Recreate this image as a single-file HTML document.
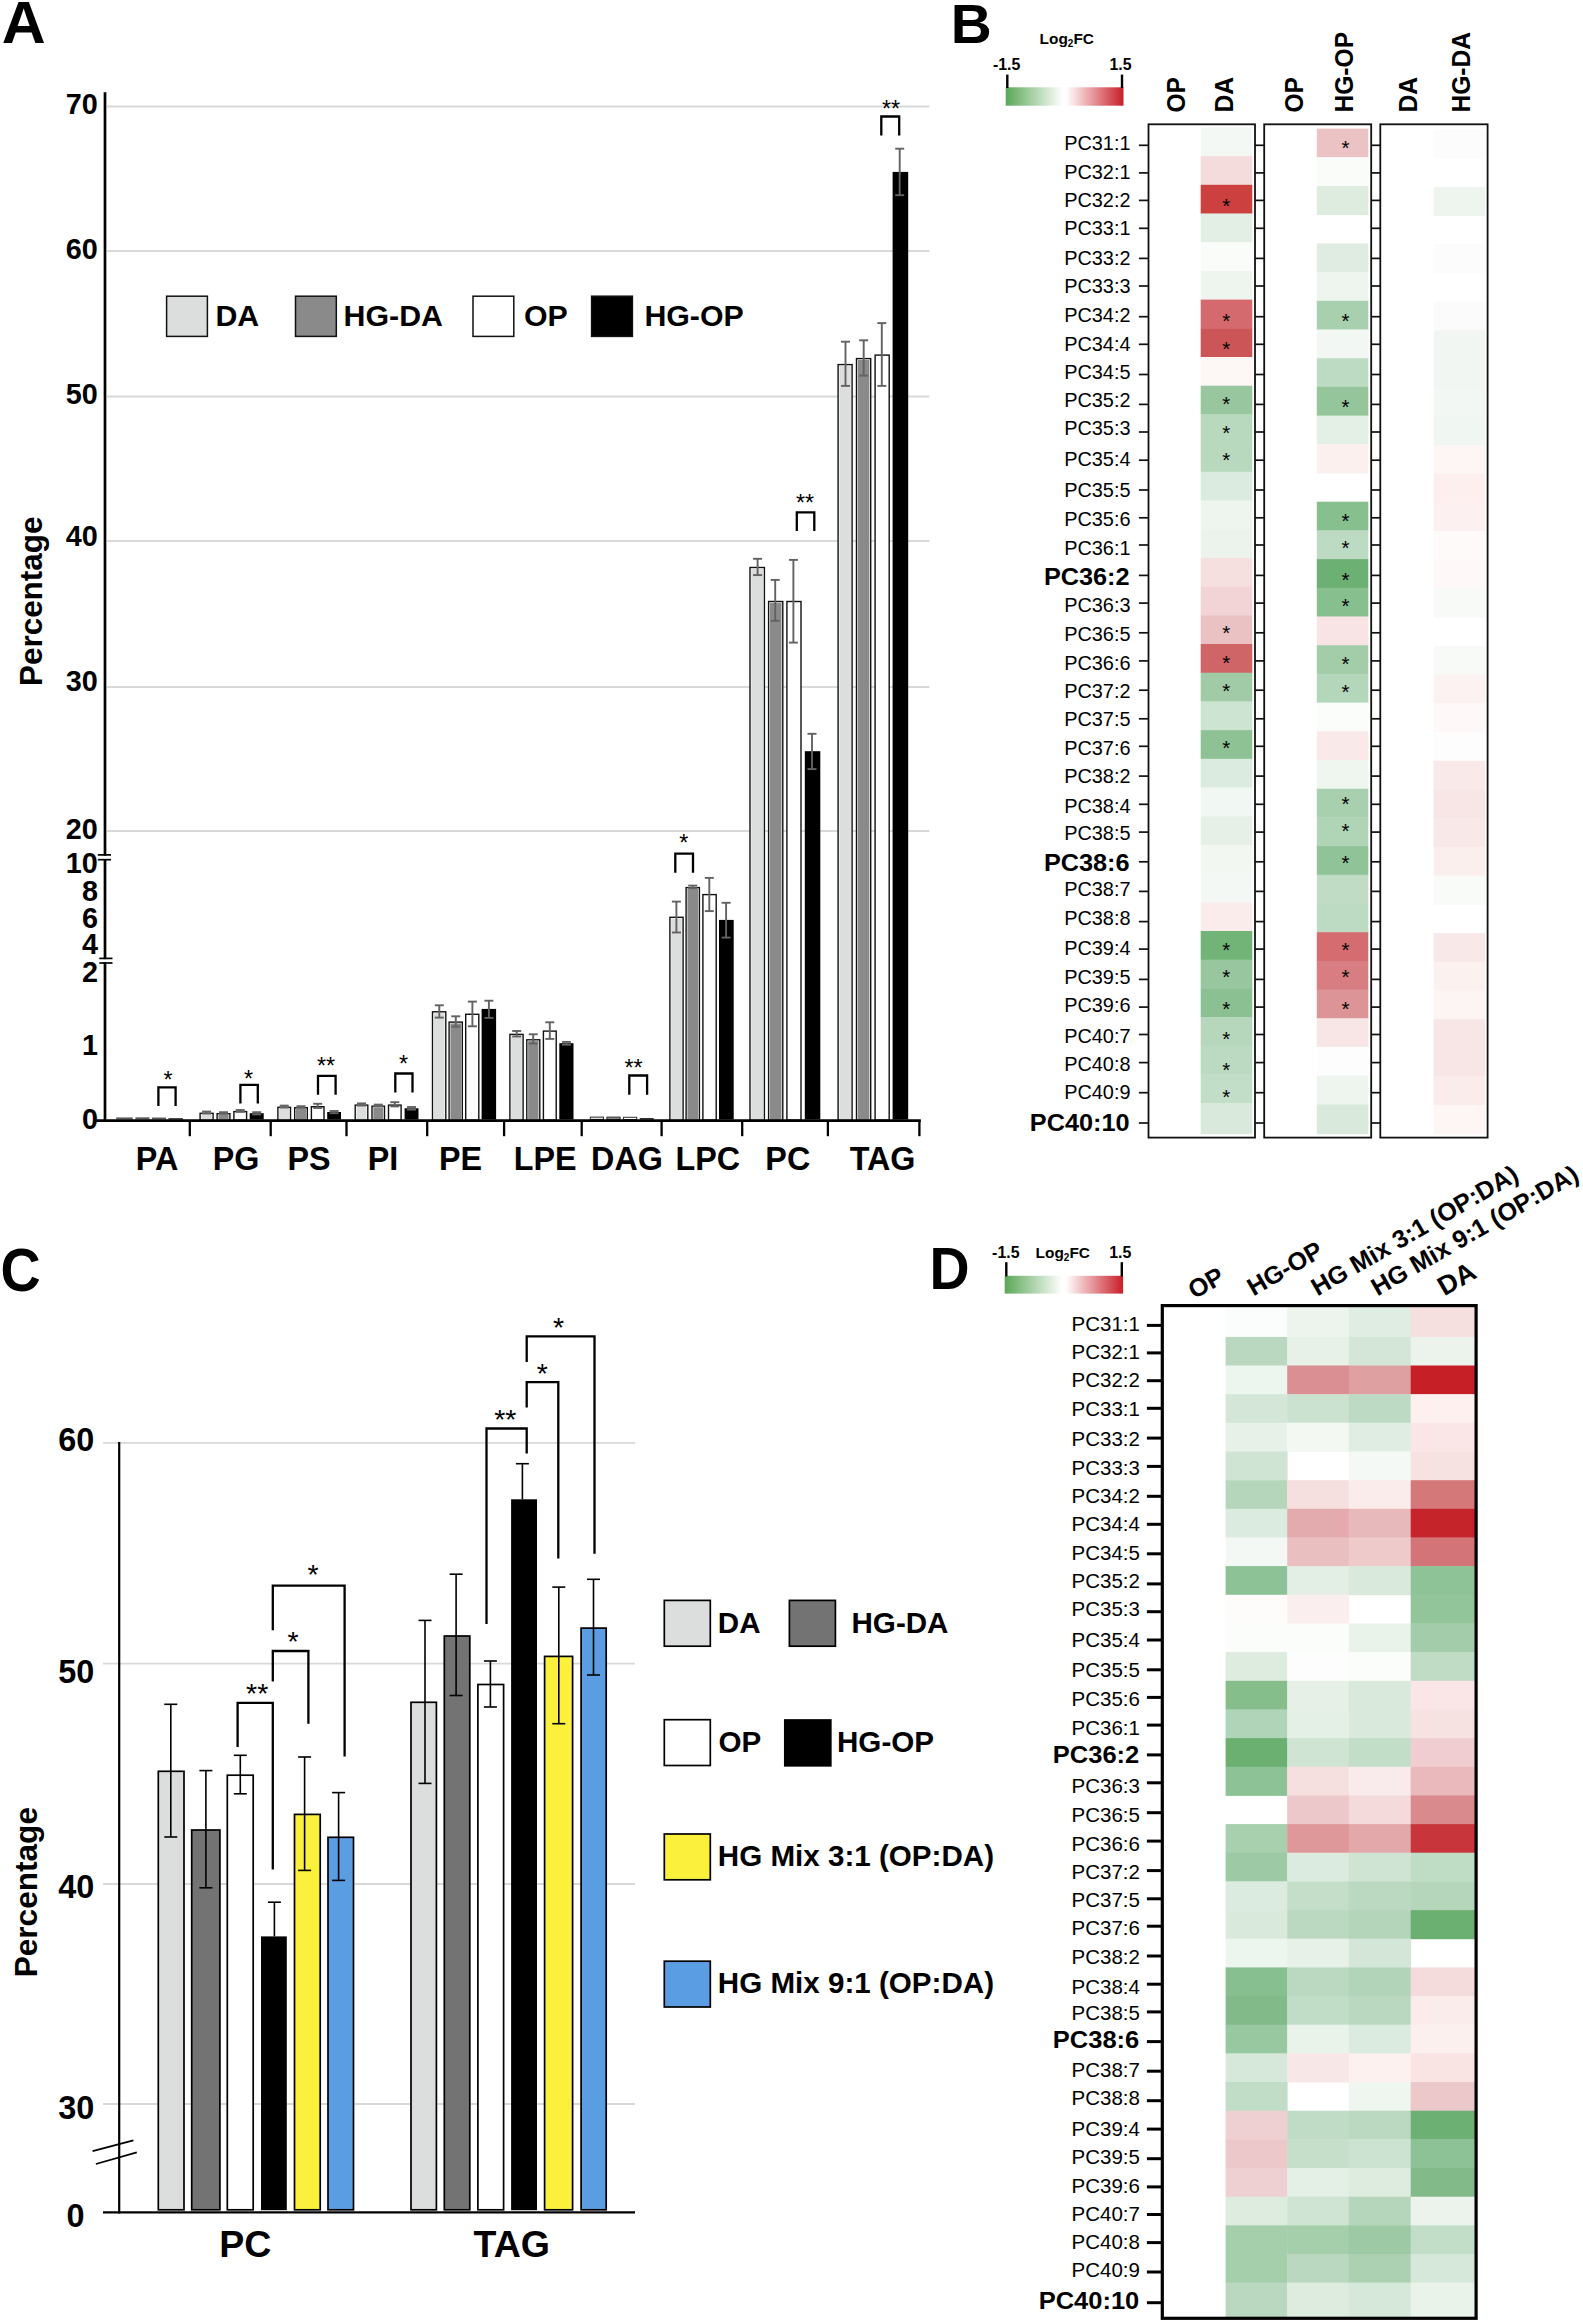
<!DOCTYPE html>
<html lang="en"><head><meta charset="utf-8"><title>Figure</title>
<style>
html,body{margin:0;padding:0;background:#fff;}
svg{display:block;}
text{font-family:"Liberation Sans", Arial, Helvetica, sans-serif;}
</style></head>
<body>
<svg width="1583" height="2323" viewBox="0 0 1583 2323">
<defs>
<linearGradient id="cb" x1="0" x2="1" y1="0" y2="0">
<stop offset="0" stop-color="#5ba757"/>
<stop offset="0.485" stop-color="#ffffff"/>
<stop offset="0.515" stop-color="#ffffff"/>
<stop offset="1" stop-color="#c81e29"/>
</linearGradient>
</defs>
<rect x="0" y="0" width="1583" height="2323" fill="#ffffff"/>
<g id="panelA">
<text transform="translate(1.70 43.30) scale(1.02 1)" font-size="59.6" font-weight="bold" text-anchor="start" fill="#000">A</text>
<line x1="107.0" y1="106.5" x2="929.4" y2="106.5" stroke="#d9d9d9" stroke-width="2" stroke-linecap="butt"/>
<line x1="107.0" y1="251.0" x2="929.4" y2="251.0" stroke="#d9d9d9" stroke-width="2" stroke-linecap="butt"/>
<line x1="107.0" y1="396.6" x2="929.4" y2="396.6" stroke="#d9d9d9" stroke-width="2" stroke-linecap="butt"/>
<line x1="107.0" y1="541.0" x2="929.4" y2="541.0" stroke="#d9d9d9" stroke-width="2" stroke-linecap="butt"/>
<line x1="107.0" y1="687.0" x2="929.4" y2="687.0" stroke="#d9d9d9" stroke-width="2" stroke-linecap="butt"/>
<line x1="107.0" y1="831.0" x2="929.4" y2="831.0" stroke="#d9d9d9" stroke-width="2" stroke-linecap="butt"/>
<text x="97.90" y="113.70" font-size="28.8" font-weight="bold" text-anchor="end" fill="#000">70</text>
<text x="97.90" y="258.60" font-size="28.8" font-weight="bold" text-anchor="end" fill="#000">60</text>
<text x="97.90" y="404.00" font-size="28.8" font-weight="bold" text-anchor="end" fill="#000">50</text>
<text x="97.90" y="546.30" font-size="28.8" font-weight="bold" text-anchor="end" fill="#000">40</text>
<text x="97.90" y="691.20" font-size="28.8" font-weight="bold" text-anchor="end" fill="#000">30</text>
<text x="97.90" y="838.50" font-size="28.8" font-weight="bold" text-anchor="end" fill="#000">20</text>
<text x="97.90" y="872.90" font-size="28.8" font-weight="bold" text-anchor="end" fill="#000">10</text>
<text x="97.90" y="900.70" font-size="28.8" font-weight="bold" text-anchor="end" fill="#000">8</text>
<text x="97.90" y="927.80" font-size="28.8" font-weight="bold" text-anchor="end" fill="#000">6</text>
<text x="97.90" y="953.70" font-size="28.8" font-weight="bold" text-anchor="end" fill="#000">4</text>
<text x="97.90" y="982.20" font-size="28.8" font-weight="bold" text-anchor="end" fill="#000">2</text>
<text x="97.90" y="1054.80" font-size="28.8" font-weight="bold" text-anchor="end" fill="#000">1</text>
<text x="97.90" y="1129.10" font-size="28.8" font-weight="bold" text-anchor="end" fill="#000">0</text>
<text x="41.80" y="601.30" font-size="31.4" font-weight="bold" text-anchor="middle" fill="#000" transform="rotate(-90 41.80 601.30)">Percentage</text>
<rect x="116.2" y="1117.4" width="16.6" height="2.1" fill="#5e5e5e"/>
<rect x="135.4" y="1117.3" width="14.1" height="2.2" fill="#5e5e5e"/>
<rect x="151.9" y="1117.5" width="14.1" height="2.0" fill="#5e5e5e"/>
<rect x="168.4" y="1118.3" width="14.5" height="1.2" fill="#000"/>
<rect x="200.1" y="1113.3" width="13.0" height="6.9" fill="#fff" stroke="#111" stroke-width="1.4"/>
<rect x="201.4" y="1114.6" width="10.4" height="4.9" fill="#dcdedd"/>
<rect x="217.1" y="1113.7" width="12.8" height="6.5" fill="#fff" stroke="#111" stroke-width="1.4"/>
<rect x="218.4" y="1115.0" width="10.2" height="4.5" fill="#8a8a8a"/>
<rect x="233.9" y="1111.6" width="12.7" height="8.6" fill="#fff" stroke="#111" stroke-width="1.4"/>
<rect x="249.7" y="1113.2" width="14.0" height="6.3" fill="#000"/>
<rect x="277.9" y="1107.3" width="12.6" height="12.9" fill="#fff" stroke="#111" stroke-width="1.4"/>
<rect x="279.2" y="1108.6" width="10.0" height="10.9" fill="#dcdedd"/>
<rect x="294.7" y="1107.7" width="12.6" height="12.5" fill="#fff" stroke="#111" stroke-width="1.4"/>
<rect x="296.0" y="1109.0" width="10.0" height="10.5" fill="#8a8a8a"/>
<rect x="311.4" y="1106.7" width="12.6" height="13.5" fill="#fff" stroke="#111" stroke-width="1.4"/>
<rect x="327.2" y="1112.0" width="13.8" height="7.5" fill="#000"/>
<rect x="355.2" y="1105.1" width="12.6" height="15.1" fill="#fff" stroke="#111" stroke-width="1.4"/>
<rect x="356.5" y="1106.4" width="10.0" height="13.1" fill="#dcdedd"/>
<rect x="372.0" y="1106.2" width="12.5" height="14.0" fill="#fff" stroke="#111" stroke-width="1.4"/>
<rect x="373.3" y="1107.5" width="9.9" height="12.0" fill="#8a8a8a"/>
<rect x="388.5" y="1105.1" width="12.6" height="15.1" fill="#fff" stroke="#111" stroke-width="1.4"/>
<rect x="404.6" y="1108.3" width="13.9" height="11.2" fill="#000"/>
<rect x="432.5" y="1011.8" width="13.3" height="108.4" fill="#fff" stroke="#111" stroke-width="1.4"/>
<rect x="433.8" y="1013.1" width="10.7" height="106.4" fill="#dcdedd"/>
<rect x="449.1" y="1022.1" width="13.2" height="98.1" fill="#fff" stroke="#111" stroke-width="1.4"/>
<rect x="450.4" y="1023.4" width="10.6" height="96.1" fill="#8a8a8a"/>
<rect x="465.7" y="1014.3" width="13.1" height="105.9" fill="#fff" stroke="#111" stroke-width="1.4"/>
<rect x="481.6" y="1008.9" width="14.5" height="110.6" fill="#000"/>
<rect x="509.9" y="1034.4" width="13.2" height="85.8" fill="#fff" stroke="#111" stroke-width="1.4"/>
<rect x="511.2" y="1035.7" width="10.6" height="83.8" fill="#dcdedd"/>
<rect x="526.8" y="1039.8" width="13.0" height="80.4" fill="#fff" stroke="#111" stroke-width="1.4"/>
<rect x="528.1" y="1041.1" width="10.4" height="78.4" fill="#8a8a8a"/>
<rect x="543.4" y="1031.1" width="12.8" height="89.1" fill="#fff" stroke="#111" stroke-width="1.4"/>
<rect x="559.3" y="1043.2" width="14.2" height="76.3" fill="#000"/>
<rect x="590.3" y="1117.1" width="13.2" height="2.4" fill="#dcdedd" stroke="#333" stroke-width="1.0"/>
<rect x="606.9" y="1117.1" width="13.2" height="2.4" fill="#8a8a8a" stroke="#333" stroke-width="1.0"/>
<rect x="623.4" y="1117.3" width="13.3" height="2.2" fill="#ffffff" stroke="#333" stroke-width="1.0"/>
<rect x="639.8" y="1118.2" width="13.9" height="1.3" fill="#000"/>
<rect x="669.9" y="917.3" width="13.2" height="202.9" fill="#fff" stroke="#111" stroke-width="1.4"/>
<rect x="671.2" y="918.6" width="10.6" height="200.9" fill="#dcdedd"/>
<rect x="686.1" y="887.6" width="13.3" height="232.6" fill="#fff" stroke="#111" stroke-width="1.4"/>
<rect x="687.4" y="888.9" width="10.7" height="230.6" fill="#8a8a8a"/>
<rect x="702.9" y="894.6" width="13.3" height="225.6" fill="#fff" stroke="#111" stroke-width="1.4"/>
<rect x="719.0" y="919.9" width="14.7" height="199.6" fill="#000"/>
<rect x="750.0" y="567.5" width="14.4" height="552.7" fill="#fff" stroke="#111" stroke-width="1.4"/>
<rect x="751.3" y="568.8" width="11.8" height="550.7" fill="#dcdedd"/>
<rect x="768.6" y="601.5" width="14.2" height="518.7" fill="#fff" stroke="#111" stroke-width="1.4"/>
<rect x="769.9" y="602.8" width="11.6" height="516.7" fill="#8a8a8a"/>
<rect x="786.9" y="601.5" width="14.1" height="518.7" fill="#fff" stroke="#111" stroke-width="1.4"/>
<rect x="804.8" y="751.2" width="15.5" height="368.3" fill="#000"/>
<rect x="838.1" y="364.6" width="14.0" height="755.6" fill="#fff" stroke="#111" stroke-width="1.4"/>
<rect x="839.4" y="365.9" width="11.4" height="753.6" fill="#dcdedd"/>
<rect x="856.5" y="358.6" width="14.2" height="761.6" fill="#fff" stroke="#111" stroke-width="1.4"/>
<rect x="857.8" y="359.9" width="11.6" height="759.6" fill="#8a8a8a"/>
<rect x="875.1" y="355.1" width="14.1" height="765.1" fill="#fff" stroke="#111" stroke-width="1.4"/>
<rect x="892.6" y="171.9" width="15.6" height="947.6" fill="#000"/>
<line x1="206.6" y1="1111.6" x2="206.6" y2="1113.6" stroke="#626262" stroke-width="1.9" stroke-linecap="butt"/>
<line x1="202.1" y1="1111.6" x2="211.1" y2="1111.6" stroke="#626262" stroke-width="1.9" stroke-linecap="butt"/>
<line x1="202.1" y1="1113.6" x2="211.1" y2="1113.6" stroke="#626262" stroke-width="1.9" stroke-linecap="butt"/>
<line x1="223.5" y1="1112.2" x2="223.5" y2="1113.8" stroke="#626262" stroke-width="1.9" stroke-linecap="butt"/>
<line x1="219.0" y1="1112.2" x2="228.0" y2="1112.2" stroke="#626262" stroke-width="1.9" stroke-linecap="butt"/>
<line x1="219.0" y1="1113.8" x2="228.0" y2="1113.8" stroke="#626262" stroke-width="1.9" stroke-linecap="butt"/>
<line x1="240.2" y1="1110.0" x2="240.2" y2="1111.8" stroke="#626262" stroke-width="1.9" stroke-linecap="butt"/>
<line x1="235.7" y1="1110.0" x2="244.7" y2="1110.0" stroke="#626262" stroke-width="1.9" stroke-linecap="butt"/>
<line x1="235.7" y1="1111.8" x2="244.7" y2="1111.8" stroke="#626262" stroke-width="1.9" stroke-linecap="butt"/>
<line x1="256.7" y1="1112.2" x2="256.7" y2="1114.4" stroke="#626262" stroke-width="1.9" stroke-linecap="butt"/>
<line x1="252.2" y1="1112.2" x2="261.2" y2="1112.2" stroke="#626262" stroke-width="1.9" stroke-linecap="butt"/>
<line x1="252.2" y1="1114.4" x2="261.2" y2="1114.4" stroke="#626262" stroke-width="1.9" stroke-linecap="butt"/>
<line x1="284.2" y1="1105.6" x2="284.2" y2="1107.6" stroke="#626262" stroke-width="1.9" stroke-linecap="butt"/>
<line x1="279.7" y1="1105.6" x2="288.7" y2="1105.6" stroke="#626262" stroke-width="1.9" stroke-linecap="butt"/>
<line x1="279.7" y1="1107.6" x2="288.7" y2="1107.6" stroke="#626262" stroke-width="1.9" stroke-linecap="butt"/>
<line x1="301.0" y1="1106.2" x2="301.0" y2="1107.8" stroke="#626262" stroke-width="1.9" stroke-linecap="butt"/>
<line x1="296.5" y1="1106.2" x2="305.5" y2="1106.2" stroke="#626262" stroke-width="1.9" stroke-linecap="butt"/>
<line x1="296.5" y1="1107.8" x2="305.5" y2="1107.8" stroke="#626262" stroke-width="1.9" stroke-linecap="butt"/>
<line x1="317.7" y1="1103.8" x2="317.7" y2="1108.0" stroke="#626262" stroke-width="1.9" stroke-linecap="butt"/>
<line x1="313.2" y1="1103.8" x2="322.2" y2="1103.8" stroke="#626262" stroke-width="1.9" stroke-linecap="butt"/>
<line x1="313.2" y1="1108.0" x2="322.2" y2="1108.0" stroke="#626262" stroke-width="1.9" stroke-linecap="butt"/>
<line x1="334.1" y1="1111.0" x2="334.1" y2="1113.2" stroke="#626262" stroke-width="1.9" stroke-linecap="butt"/>
<line x1="329.6" y1="1111.0" x2="338.6" y2="1111.0" stroke="#626262" stroke-width="1.9" stroke-linecap="butt"/>
<line x1="329.6" y1="1113.2" x2="338.6" y2="1113.2" stroke="#626262" stroke-width="1.9" stroke-linecap="butt"/>
<line x1="361.5" y1="1103.4" x2="361.5" y2="1105.6" stroke="#626262" stroke-width="1.9" stroke-linecap="butt"/>
<line x1="357.0" y1="1103.4" x2="366.0" y2="1103.4" stroke="#626262" stroke-width="1.9" stroke-linecap="butt"/>
<line x1="357.0" y1="1105.6" x2="366.0" y2="1105.6" stroke="#626262" stroke-width="1.9" stroke-linecap="butt"/>
<line x1="378.3" y1="1104.6" x2="378.3" y2="1106.4" stroke="#626262" stroke-width="1.9" stroke-linecap="butt"/>
<line x1="373.8" y1="1104.6" x2="382.8" y2="1104.6" stroke="#626262" stroke-width="1.9" stroke-linecap="butt"/>
<line x1="373.8" y1="1106.4" x2="382.8" y2="1106.4" stroke="#626262" stroke-width="1.9" stroke-linecap="butt"/>
<line x1="394.8" y1="1102.2" x2="394.8" y2="1106.4" stroke="#626262" stroke-width="1.9" stroke-linecap="butt"/>
<line x1="390.3" y1="1102.2" x2="399.3" y2="1102.2" stroke="#626262" stroke-width="1.9" stroke-linecap="butt"/>
<line x1="390.3" y1="1106.4" x2="399.3" y2="1106.4" stroke="#626262" stroke-width="1.9" stroke-linecap="butt"/>
<line x1="411.5" y1="1107.0" x2="411.5" y2="1109.6" stroke="#626262" stroke-width="1.9" stroke-linecap="butt"/>
<line x1="407.0" y1="1107.0" x2="416.0" y2="1107.0" stroke="#626262" stroke-width="1.9" stroke-linecap="butt"/>
<line x1="407.0" y1="1109.6" x2="416.0" y2="1109.6" stroke="#626262" stroke-width="1.9" stroke-linecap="butt"/>
<line x1="439.3" y1="1005.3" x2="439.3" y2="1017.6" stroke="#626262" stroke-width="1.9" stroke-linecap="butt"/>
<line x1="434.8" y1="1005.3" x2="443.8" y2="1005.3" stroke="#626262" stroke-width="1.9" stroke-linecap="butt"/>
<line x1="434.8" y1="1017.6" x2="443.8" y2="1017.6" stroke="#626262" stroke-width="1.9" stroke-linecap="butt"/>
<line x1="455.8" y1="1016.3" x2="455.8" y2="1026.6" stroke="#626262" stroke-width="1.9" stroke-linecap="butt"/>
<line x1="451.3" y1="1016.3" x2="460.3" y2="1016.3" stroke="#626262" stroke-width="1.9" stroke-linecap="butt"/>
<line x1="451.3" y1="1026.6" x2="460.3" y2="1026.6" stroke="#626262" stroke-width="1.9" stroke-linecap="butt"/>
<line x1="472.4" y1="1001.6" x2="472.4" y2="1026.3" stroke="#626262" stroke-width="1.9" stroke-linecap="butt"/>
<line x1="467.9" y1="1001.6" x2="476.9" y2="1001.6" stroke="#626262" stroke-width="1.9" stroke-linecap="butt"/>
<line x1="467.9" y1="1026.3" x2="476.9" y2="1026.3" stroke="#626262" stroke-width="1.9" stroke-linecap="butt"/>
<line x1="488.9" y1="1000.7" x2="488.9" y2="1017.9" stroke="#626262" stroke-width="1.9" stroke-linecap="butt"/>
<line x1="484.4" y1="1000.7" x2="493.4" y2="1000.7" stroke="#626262" stroke-width="1.9" stroke-linecap="butt"/>
<line x1="484.4" y1="1017.9" x2="493.4" y2="1017.9" stroke="#626262" stroke-width="1.9" stroke-linecap="butt"/>
<line x1="516.7" y1="1031.0" x2="516.7" y2="1036.5" stroke="#626262" stroke-width="1.9" stroke-linecap="butt"/>
<line x1="512.2" y1="1031.0" x2="521.2" y2="1031.0" stroke="#626262" stroke-width="1.9" stroke-linecap="butt"/>
<line x1="512.2" y1="1036.5" x2="521.2" y2="1036.5" stroke="#626262" stroke-width="1.9" stroke-linecap="butt"/>
<line x1="533.2" y1="1034.3" x2="533.2" y2="1043.5" stroke="#626262" stroke-width="1.9" stroke-linecap="butt"/>
<line x1="528.7" y1="1034.3" x2="537.7" y2="1034.3" stroke="#626262" stroke-width="1.9" stroke-linecap="butt"/>
<line x1="528.7" y1="1043.5" x2="537.7" y2="1043.5" stroke="#626262" stroke-width="1.9" stroke-linecap="butt"/>
<line x1="549.8" y1="1022.3" x2="549.8" y2="1038.9" stroke="#626262" stroke-width="1.9" stroke-linecap="butt"/>
<line x1="545.3" y1="1022.3" x2="554.3" y2="1022.3" stroke="#626262" stroke-width="1.9" stroke-linecap="butt"/>
<line x1="545.3" y1="1038.9" x2="554.3" y2="1038.9" stroke="#626262" stroke-width="1.9" stroke-linecap="butt"/>
<line x1="566.4" y1="1041.9" x2="566.4" y2="1044.7" stroke="#626262" stroke-width="1.9" stroke-linecap="butt"/>
<line x1="561.9" y1="1041.9" x2="570.9" y2="1041.9" stroke="#626262" stroke-width="1.9" stroke-linecap="butt"/>
<line x1="561.9" y1="1044.7" x2="570.9" y2="1044.7" stroke="#626262" stroke-width="1.9" stroke-linecap="butt"/>
<line x1="676.4" y1="901.6" x2="676.4" y2="932.5" stroke="#626262" stroke-width="1.9" stroke-linecap="butt"/>
<line x1="671.9" y1="901.6" x2="680.9" y2="901.6" stroke="#626262" stroke-width="1.9" stroke-linecap="butt"/>
<line x1="671.9" y1="932.5" x2="680.9" y2="932.5" stroke="#626262" stroke-width="1.9" stroke-linecap="butt"/>
<line x1="692.7" y1="885.6" x2="692.7" y2="888.1" stroke="#626262" stroke-width="1.9" stroke-linecap="butt"/>
<line x1="688.2" y1="885.6" x2="697.2" y2="885.6" stroke="#626262" stroke-width="1.9" stroke-linecap="butt"/>
<line x1="688.2" y1="888.1" x2="697.2" y2="888.1" stroke="#626262" stroke-width="1.9" stroke-linecap="butt"/>
<line x1="709.3" y1="877.9" x2="709.3" y2="911.1" stroke="#626262" stroke-width="1.9" stroke-linecap="butt"/>
<line x1="704.8" y1="877.9" x2="713.8" y2="877.9" stroke="#626262" stroke-width="1.9" stroke-linecap="butt"/>
<line x1="704.8" y1="911.1" x2="713.8" y2="911.1" stroke="#626262" stroke-width="1.9" stroke-linecap="butt"/>
<line x1="726.1" y1="902.8" x2="726.1" y2="937.6" stroke="#626262" stroke-width="1.9" stroke-linecap="butt"/>
<line x1="721.6" y1="902.8" x2="730.6" y2="902.8" stroke="#626262" stroke-width="1.9" stroke-linecap="butt"/>
<line x1="721.6" y1="937.6" x2="730.6" y2="937.6" stroke="#626262" stroke-width="1.9" stroke-linecap="butt"/>
<line x1="757.6" y1="558.8" x2="757.6" y2="575.1" stroke="#626262" stroke-width="1.9" stroke-linecap="butt"/>
<line x1="753.1" y1="558.8" x2="762.1" y2="558.8" stroke="#626262" stroke-width="1.9" stroke-linecap="butt"/>
<line x1="753.1" y1="575.1" x2="762.1" y2="575.1" stroke="#626262" stroke-width="1.9" stroke-linecap="butt"/>
<line x1="775.2" y1="579.9" x2="775.2" y2="620.8" stroke="#626262" stroke-width="1.9" stroke-linecap="butt"/>
<line x1="770.7" y1="579.9" x2="779.7" y2="579.9" stroke="#626262" stroke-width="1.9" stroke-linecap="butt"/>
<line x1="770.7" y1="620.8" x2="779.7" y2="620.8" stroke="#626262" stroke-width="1.9" stroke-linecap="butt"/>
<line x1="793.4" y1="559.9" x2="793.4" y2="642.6" stroke="#626262" stroke-width="1.9" stroke-linecap="butt"/>
<line x1="788.9" y1="559.9" x2="797.9" y2="559.9" stroke="#626262" stroke-width="1.9" stroke-linecap="butt"/>
<line x1="788.9" y1="642.6" x2="797.9" y2="642.6" stroke="#626262" stroke-width="1.9" stroke-linecap="butt"/>
<line x1="812.0" y1="733.8" x2="812.0" y2="769.1" stroke="#626262" stroke-width="1.9" stroke-linecap="butt"/>
<line x1="807.5" y1="733.8" x2="816.5" y2="733.8" stroke="#626262" stroke-width="1.9" stroke-linecap="butt"/>
<line x1="807.5" y1="769.1" x2="816.5" y2="769.1" stroke="#626262" stroke-width="1.9" stroke-linecap="butt"/>
<line x1="845.5" y1="341.7" x2="845.5" y2="385.9" stroke="#626262" stroke-width="1.9" stroke-linecap="butt"/>
<line x1="841.0" y1="341.7" x2="850.0" y2="341.7" stroke="#626262" stroke-width="1.9" stroke-linecap="butt"/>
<line x1="841.0" y1="385.9" x2="850.0" y2="385.9" stroke="#626262" stroke-width="1.9" stroke-linecap="butt"/>
<line x1="863.7" y1="340.3" x2="863.7" y2="375.6" stroke="#626262" stroke-width="1.9" stroke-linecap="butt"/>
<line x1="859.2" y1="340.3" x2="868.2" y2="340.3" stroke="#626262" stroke-width="1.9" stroke-linecap="butt"/>
<line x1="859.2" y1="375.6" x2="868.2" y2="375.6" stroke="#626262" stroke-width="1.9" stroke-linecap="butt"/>
<line x1="881.8" y1="323.1" x2="881.8" y2="385.9" stroke="#626262" stroke-width="1.9" stroke-linecap="butt"/>
<line x1="877.3" y1="323.1" x2="886.3" y2="323.1" stroke="#626262" stroke-width="1.9" stroke-linecap="butt"/>
<line x1="877.3" y1="385.9" x2="886.3" y2="385.9" stroke="#626262" stroke-width="1.9" stroke-linecap="butt"/>
<line x1="899.7" y1="148.7" x2="899.7" y2="195.2" stroke="#626262" stroke-width="1.9" stroke-linecap="butt"/>
<line x1="895.2" y1="148.7" x2="904.2" y2="148.7" stroke="#626262" stroke-width="1.9" stroke-linecap="butt"/>
<line x1="895.2" y1="195.2" x2="904.2" y2="195.2" stroke="#626262" stroke-width="1.9" stroke-linecap="butt"/>
<line x1="105.0" y1="92.2" x2="105.0" y2="1121.9" stroke="#000" stroke-width="2.7" stroke-linecap="butt"/>
<line x1="96.2" y1="1120.7" x2="920.8" y2="1120.7" stroke="#000" stroke-width="2.8" stroke-linecap="butt"/>
<line x1="189.8" y1="1120.5" x2="189.8" y2="1136.2" stroke="#000" stroke-width="2.3" stroke-linecap="butt"/>
<line x1="270.7" y1="1120.5" x2="270.7" y2="1136.2" stroke="#000" stroke-width="2.3" stroke-linecap="butt"/>
<line x1="346.5" y1="1120.5" x2="346.5" y2="1136.2" stroke="#000" stroke-width="2.3" stroke-linecap="butt"/>
<line x1="427.2" y1="1120.5" x2="427.2" y2="1136.2" stroke="#000" stroke-width="2.3" stroke-linecap="butt"/>
<line x1="504.1" y1="1120.5" x2="504.1" y2="1136.2" stroke="#000" stroke-width="2.3" stroke-linecap="butt"/>
<line x1="581.7" y1="1120.5" x2="581.7" y2="1136.2" stroke="#000" stroke-width="2.3" stroke-linecap="butt"/>
<line x1="661.6" y1="1120.5" x2="661.6" y2="1136.2" stroke="#000" stroke-width="2.3" stroke-linecap="butt"/>
<line x1="742.2" y1="1120.5" x2="742.2" y2="1136.2" stroke="#000" stroke-width="2.3" stroke-linecap="butt"/>
<line x1="827.9" y1="1120.5" x2="827.9" y2="1136.2" stroke="#000" stroke-width="2.3" stroke-linecap="butt"/>
<line x1="919.4" y1="1120.5" x2="919.4" y2="1136.2" stroke="#000" stroke-width="2.3" stroke-linecap="butt"/>
<rect x="103.0" y="855.6" width="4.4" height="3.4" fill="#fff"/>
<rect x="103.0" y="959.2" width="4.4" height="3.0" fill="#fff"/>
<line x1="97.8" y1="854.9" x2="111.0" y2="854.9" stroke="#000" stroke-width="1.7" stroke-linecap="butt"/>
<line x1="97.8" y1="859.7" x2="111.0" y2="859.7" stroke="#000" stroke-width="1.7" stroke-linecap="butt"/>
<line x1="99.3" y1="958.4" x2="112.5" y2="958.4" stroke="#000" stroke-width="1.7" stroke-linecap="butt"/>
<line x1="99.3" y1="963.0" x2="112.5" y2="963.0" stroke="#000" stroke-width="1.7" stroke-linecap="butt"/>
<text x="157.10" y="1169.90" font-size="32.3" font-weight="bold" text-anchor="middle" fill="#000">PA</text>
<text x="236.10" y="1169.90" font-size="32.3" font-weight="bold" text-anchor="middle" fill="#000">PG</text>
<text x="309.00" y="1169.90" font-size="32.3" font-weight="bold" text-anchor="middle" fill="#000">PS</text>
<text x="383.00" y="1169.90" font-size="32.3" font-weight="bold" text-anchor="middle" fill="#000">PI</text>
<text x="460.60" y="1169.90" font-size="32.3" font-weight="bold" text-anchor="middle" fill="#000">PE</text>
<text x="545.20" y="1169.90" font-size="32.3" font-weight="bold" text-anchor="middle" fill="#000">LPE</text>
<text x="627.00" y="1169.90" font-size="32.3" font-weight="bold" text-anchor="middle" fill="#000">DAG</text>
<text x="707.90" y="1169.90" font-size="32.3" font-weight="bold" text-anchor="middle" fill="#000">LPC</text>
<text x="787.80" y="1169.90" font-size="32.3" font-weight="bold" text-anchor="middle" fill="#000">PC</text>
<text x="882.60" y="1169.90" font-size="32.3" font-weight="bold" text-anchor="middle" fill="#000">TAG</text>
<polyline points="158.4,1106.0 158.4,1087.3 175.6,1087.3 175.6,1106.0" fill="none" stroke="#000" stroke-width="2.3" stroke-linejoin="miter"/>
<text x="168.10" y="1087.72" font-size="23.3" text-anchor="middle" fill="#000">*</text>
<polyline points="240.4,1103.6 240.4,1084.8 257.8,1084.8 257.8,1103.6" fill="none" stroke="#000" stroke-width="2.3" stroke-linejoin="miter"/>
<text x="248.60" y="1087.02" font-size="23.3" text-anchor="middle" fill="#000">*</text>
<polyline points="318.0,1094.8 318.0,1075.9 335.6,1075.9 335.6,1094.8" fill="none" stroke="#000" stroke-width="2.3" stroke-linejoin="miter"/>
<text x="326.00" y="1074.02" font-size="23.3" text-anchor="middle" fill="#000">**</text>
<polyline points="395.3,1092.6 395.3,1073.5 412.5,1073.5 412.5,1092.6" fill="none" stroke="#000" stroke-width="2.3" stroke-linejoin="miter"/>
<text x="403.60" y="1072.02" font-size="23.3" text-anchor="middle" fill="#000">*</text>
<polyline points="629.3,1094.8 629.3,1075.5 647.1,1075.5 647.1,1094.8" fill="none" stroke="#000" stroke-width="2.3" stroke-linejoin="miter"/>
<text x="633.60" y="1075.62" font-size="23.3" text-anchor="middle" fill="#000">**</text>
<polyline points="675.3,872.7 675.3,853.6 693.0,853.6 693.0,872.7" fill="none" stroke="#000" stroke-width="2.3" stroke-linejoin="miter"/>
<text x="683.80" y="851.22" font-size="23.3" text-anchor="middle" fill="#000">*</text>
<polyline points="796.8,531.0 796.8,512.4 814.3,512.4 814.3,531.0" fill="none" stroke="#000" stroke-width="2.3" stroke-linejoin="miter"/>
<text x="805.10" y="510.52" font-size="23.3" text-anchor="middle" fill="#000">**</text>
<polyline points="881.3,135.4 881.3,116.5 899.2,116.5 899.2,135.4" fill="none" stroke="#000" stroke-width="2.3" stroke-linejoin="miter"/>
<text x="891.00" y="116.52" font-size="23.3" text-anchor="middle" fill="#000">**</text>
<rect x="166.6" y="296.2" width="40.8" height="40.2" fill="#dcdedd" stroke="#111" stroke-width="1.5"/>
<rect x="295.5" y="296.2" width="40.8" height="40.2" fill="#8a8a8a" stroke="#111" stroke-width="1.5"/>
<rect x="473.0" y="296.2" width="40.8" height="40.2" fill="#ffffff" stroke="#111" stroke-width="1.5"/>
<rect x="591.6" y="296.2" width="40.8" height="40.2" fill="#000000" stroke="#111" stroke-width="1.5"/>
<text x="215.40" y="325.70" font-size="30.3" font-weight="bold" text-anchor="start" fill="#000">DA</text>
<text x="343.60" y="325.70" font-size="30.3" font-weight="bold" text-anchor="start" fill="#000">HG-DA</text>
<text x="523.90" y="325.70" font-size="30.3" font-weight="bold" text-anchor="start" fill="#000">OP</text>
<text x="644.40" y="325.70" font-size="30.3" font-weight="bold" text-anchor="start" fill="#000">HG-OP</text>
</g>
<g id="panelB">
<text transform="translate(950.80 42.90) scale(1.016 1)" font-size="55.85" font-weight="bold" text-anchor="start" fill="#000">B</text>
<rect x="1005.7" y="87.3" width="117.8" height="18.4" fill="url(#cb)"/>
<line x1="1007.3" y1="74.6" x2="1007.3" y2="88.0" stroke="#000" stroke-width="2.4" stroke-linecap="butt"/>
<line x1="1122.0" y1="74.6" x2="1122.0" y2="88.0" stroke="#000" stroke-width="2.4" stroke-linecap="butt"/>
<text x="992.90" y="69.70" font-size="15.9" font-weight="bold" text-anchor="start" fill="#000">-1.5</text>
<text x="1131.50" y="69.70" font-size="15.9" font-weight="bold" text-anchor="end" fill="#000">1.5</text>
<text x="1039.6" y="44.0" font-size="15.4" font-weight="bold">Log<tspan font-size="10" dy="3.4">2</tspan><tspan dy="-3.4">FC</tspan></text>
<rect x="1200.7" y="127.4" width="51.6" height="29.1" fill="#f3f8f4"/>
<rect x="1200.7" y="156.1" width="51.6" height="29.1" fill="#f4dcdc"/>
<rect x="1200.7" y="184.8" width="51.6" height="29.1" fill="#cc4040"/>
<rect x="1200.7" y="213.5" width="51.6" height="29.1" fill="#e3eee5"/>
<rect x="1200.7" y="242.2" width="51.6" height="29.1" fill="#fafcfa"/>
<rect x="1200.7" y="270.9" width="51.6" height="29.1" fill="#edf5ee"/>
<rect x="1200.7" y="299.6" width="51.6" height="29.1" fill="#d46a6e"/>
<rect x="1200.7" y="328.3" width="51.6" height="29.1" fill="#cc5558"/>
<rect x="1200.7" y="357.0" width="51.6" height="29.1" fill="#fdf7f6"/>
<rect x="1200.7" y="385.7" width="51.6" height="29.1" fill="#98c79f"/>
<rect x="1200.7" y="414.4" width="51.6" height="29.1" fill="#b9d9bf"/>
<rect x="1200.7" y="443.1" width="51.6" height="29.1" fill="#b9d9bf"/>
<rect x="1200.7" y="471.8" width="51.6" height="29.1" fill="#dcebdf"/>
<rect x="1200.7" y="500.5" width="51.6" height="29.1" fill="#edf5ee"/>
<rect x="1200.7" y="529.2" width="51.6" height="29.1" fill="#ebf3ec"/>
<rect x="1200.7" y="557.9" width="51.6" height="29.1" fill="#f6e0df"/>
<rect x="1200.7" y="586.6" width="51.6" height="29.1" fill="#f2d4d6"/>
<rect x="1200.7" y="615.3" width="51.6" height="29.1" fill="#ebc2c4"/>
<rect x="1200.7" y="644.0" width="51.6" height="29.1" fill="#d06568"/>
<rect x="1200.7" y="672.7" width="51.6" height="29.1" fill="#a0cba6"/>
<rect x="1200.7" y="701.4" width="51.6" height="29.1" fill="#cde4d2"/>
<rect x="1200.7" y="730.1" width="51.6" height="29.1" fill="#8ec294"/>
<rect x="1200.7" y="758.8" width="51.6" height="29.1" fill="#dcebdf"/>
<rect x="1200.7" y="787.5" width="51.6" height="29.1" fill="#f1f7f2"/>
<rect x="1200.7" y="816.2" width="51.6" height="29.1" fill="#e6f0e7"/>
<rect x="1200.7" y="844.9" width="51.6" height="29.1" fill="#f2f7f2"/>
<rect x="1200.7" y="873.6" width="51.6" height="29.1" fill="#f4f8f4"/>
<rect x="1200.7" y="902.3" width="51.6" height="29.1" fill="#faeceb"/>
<rect x="1200.7" y="931.0" width="51.6" height="29.1" fill="#72b378"/>
<rect x="1200.7" y="959.7" width="51.6" height="29.1" fill="#98c79f"/>
<rect x="1200.7" y="988.4" width="51.6" height="29.1" fill="#8bc092"/>
<rect x="1200.7" y="1017.1" width="51.6" height="29.1" fill="#b6d7bc"/>
<rect x="1200.7" y="1045.8" width="51.6" height="29.1" fill="#bcdac1"/>
<rect x="1200.7" y="1074.5" width="51.6" height="29.1" fill="#c3dec8"/>
<rect x="1200.7" y="1103.2" width="51.6" height="31.0" fill="#d9eadc"/>
<text x="1226.20" y="213.01" font-size="20.5" text-anchor="middle" fill="#000">*</text>
<text x="1226.20" y="327.61" font-size="20.5" text-anchor="middle" fill="#000">*</text>
<text x="1226.20" y="355.51" font-size="20.5" text-anchor="middle" fill="#000">*</text>
<text x="1226.20" y="411.01" font-size="20.5" text-anchor="middle" fill="#000">*</text>
<text x="1226.20" y="439.51" font-size="20.5" text-anchor="middle" fill="#000">*</text>
<text x="1226.20" y="467.11" font-size="20.5" text-anchor="middle" fill="#000">*</text>
<text x="1226.20" y="640.01" font-size="20.5" text-anchor="middle" fill="#000">*</text>
<text x="1226.20" y="670.31" font-size="20.5" text-anchor="middle" fill="#000">*</text>
<text x="1226.20" y="698.21" font-size="20.5" text-anchor="middle" fill="#000">*</text>
<text x="1226.20" y="754.91" font-size="20.5" text-anchor="middle" fill="#000">*</text>
<text x="1226.20" y="956.91" font-size="20.5" text-anchor="middle" fill="#000">*</text>
<text x="1226.20" y="984.21" font-size="20.5" text-anchor="middle" fill="#000">*</text>
<text x="1226.20" y="1015.71" font-size="20.5" text-anchor="middle" fill="#000">*</text>
<text x="1226.20" y="1045.51" font-size="20.5" text-anchor="middle" fill="#000">*</text>
<text x="1226.20" y="1077.31" font-size="20.5" text-anchor="middle" fill="#000">*</text>
<text x="1226.20" y="1104.01" font-size="20.5" text-anchor="middle" fill="#000">*</text>
<rect x="1316.8" y="128.6" width="51.5" height="29.1" fill="#ebc3c4"/>
<rect x="1316.8" y="157.3" width="51.5" height="29.1" fill="#fafcfa"/>
<rect x="1316.8" y="186.0" width="51.5" height="29.1" fill="#deebdf"/>
<rect x="1316.8" y="243.4" width="51.5" height="29.1" fill="#e0ece1"/>
<rect x="1316.8" y="272.1" width="51.5" height="29.1" fill="#edf5ee"/>
<rect x="1316.8" y="300.8" width="51.5" height="29.1" fill="#a8cfae"/>
<rect x="1316.8" y="329.5" width="51.5" height="29.1" fill="#f2f7f3"/>
<rect x="1316.8" y="358.2" width="51.5" height="29.1" fill="#bddbc2"/>
<rect x="1316.8" y="386.9" width="51.5" height="29.1" fill="#94c59b"/>
<rect x="1316.8" y="415.6" width="51.5" height="29.1" fill="#e4efe5"/>
<rect x="1316.8" y="444.3" width="51.5" height="29.1" fill="#fcf0ef"/>
<rect x="1316.8" y="501.7" width="51.5" height="29.1" fill="#88bf8f"/>
<rect x="1316.8" y="530.4" width="51.5" height="29.1" fill="#bddbc2"/>
<rect x="1316.8" y="559.1" width="51.5" height="29.1" fill="#6db073"/>
<rect x="1316.8" y="587.8" width="51.5" height="29.1" fill="#88bf8f"/>
<rect x="1316.8" y="616.5" width="51.5" height="29.1" fill="#f8e4e4"/>
<rect x="1316.8" y="645.2" width="51.5" height="29.1" fill="#a3cda9"/>
<rect x="1316.8" y="673.9" width="51.5" height="29.1" fill="#b4d6ba"/>
<rect x="1316.8" y="702.6" width="51.5" height="29.1" fill="#fbfdfb"/>
<rect x="1316.8" y="731.3" width="51.5" height="29.1" fill="#f9eae9"/>
<rect x="1316.8" y="760.0" width="51.5" height="29.1" fill="#eff6f0"/>
<rect x="1316.8" y="788.7" width="51.5" height="29.1" fill="#a8cfae"/>
<rect x="1316.8" y="817.4" width="51.5" height="29.1" fill="#b0d4b6"/>
<rect x="1316.8" y="846.1" width="51.5" height="29.1" fill="#90c397"/>
<rect x="1316.8" y="874.8" width="51.5" height="29.1" fill="#c0dcc5"/>
<rect x="1316.8" y="903.5" width="51.5" height="29.1" fill="#bddbc2"/>
<rect x="1316.8" y="932.2" width="51.5" height="29.1" fill="#d46c70"/>
<rect x="1316.8" y="960.9" width="51.5" height="29.1" fill="#d87e82"/>
<rect x="1316.8" y="989.6" width="51.5" height="29.1" fill="#dc9496"/>
<rect x="1316.8" y="1018.3" width="51.5" height="29.1" fill="#f8e6e6"/>
<rect x="1316.8" y="1047.0" width="51.5" height="29.1" fill="#fcfdfc"/>
<rect x="1316.8" y="1075.7" width="51.5" height="29.1" fill="#edf5ee"/>
<rect x="1316.8" y="1104.4" width="51.5" height="29.8" fill="#d9eadc"/>
<text x="1345.45" y="155.41" font-size="20.5" text-anchor="middle" fill="#000">*</text>
<text x="1345.45" y="328.21" font-size="20.5" text-anchor="middle" fill="#000">*</text>
<text x="1345.45" y="414.01" font-size="20.5" text-anchor="middle" fill="#000">*</text>
<text x="1345.45" y="528.41" font-size="20.5" text-anchor="middle" fill="#000">*</text>
<text x="1345.45" y="554.81" font-size="20.5" text-anchor="middle" fill="#000">*</text>
<text x="1345.45" y="586.61" font-size="20.5" text-anchor="middle" fill="#000">*</text>
<text x="1345.45" y="613.31" font-size="20.5" text-anchor="middle" fill="#000">*</text>
<text x="1345.45" y="670.91" font-size="20.5" text-anchor="middle" fill="#000">*</text>
<text x="1345.45" y="698.81" font-size="20.5" text-anchor="middle" fill="#000">*</text>
<text x="1345.45" y="811.01" font-size="20.5" text-anchor="middle" fill="#000">*</text>
<text x="1345.45" y="838.31" font-size="20.5" text-anchor="middle" fill="#000">*</text>
<text x="1345.45" y="869.51" font-size="20.5" text-anchor="middle" fill="#000">*</text>
<text x="1345.45" y="956.91" font-size="20.5" text-anchor="middle" fill="#000">*</text>
<text x="1345.45" y="984.21" font-size="20.5" text-anchor="middle" fill="#000">*</text>
<text x="1345.45" y="1015.71" font-size="20.5" text-anchor="middle" fill="#000">*</text>
<rect x="1433.6" y="129.4" width="51.6" height="29.1" fill="#fcfcfc"/>
<rect x="1433.6" y="186.8" width="51.6" height="29.1" fill="#eef5ef"/>
<rect x="1433.6" y="244.2" width="51.6" height="29.1" fill="#fdfcfc"/>
<rect x="1433.6" y="301.6" width="51.6" height="29.1" fill="#fafbfa"/>
<rect x="1433.6" y="330.3" width="51.6" height="29.1" fill="#f1f6f2"/>
<rect x="1433.6" y="359.0" width="51.6" height="29.1" fill="#f1f6f2"/>
<rect x="1433.6" y="387.7" width="51.6" height="29.1" fill="#f2f7f3"/>
<rect x="1433.6" y="416.4" width="51.6" height="29.1" fill="#f0f6f1"/>
<rect x="1433.6" y="445.1" width="51.6" height="29.1" fill="#fdf6f5"/>
<rect x="1433.6" y="473.8" width="51.6" height="29.1" fill="#fcefee"/>
<rect x="1433.6" y="502.5" width="51.6" height="29.1" fill="#fcf1f0"/>
<rect x="1433.6" y="531.2" width="51.6" height="29.1" fill="#fefafa"/>
<rect x="1433.6" y="559.9" width="51.6" height="29.1" fill="#fef8f8"/>
<rect x="1433.6" y="588.6" width="51.6" height="29.1" fill="#f7faf7"/>
<rect x="1433.6" y="646.0" width="51.6" height="29.1" fill="#f8faf8"/>
<rect x="1433.6" y="674.7" width="51.6" height="29.1" fill="#fcf2f1"/>
<rect x="1433.6" y="703.4" width="51.6" height="29.1" fill="#fef9f8"/>
<rect x="1433.6" y="732.1" width="51.6" height="29.1" fill="#fefdfd"/>
<rect x="1433.6" y="760.8" width="51.6" height="29.1" fill="#f9e9e9"/>
<rect x="1433.6" y="789.5" width="51.6" height="29.1" fill="#f8e5e5"/>
<rect x="1433.6" y="818.2" width="51.6" height="29.1" fill="#f9e8e8"/>
<rect x="1433.6" y="846.9" width="51.6" height="29.1" fill="#fbefee"/>
<rect x="1433.6" y="875.6" width="51.6" height="29.1" fill="#f8fbf8"/>
<rect x="1433.6" y="933.0" width="51.6" height="29.1" fill="#f9e8e8"/>
<rect x="1433.6" y="961.7" width="51.6" height="29.1" fill="#fbf2f0"/>
<rect x="1433.6" y="990.4" width="51.6" height="29.1" fill="#fcf5f3"/>
<rect x="1433.6" y="1019.1" width="51.6" height="29.1" fill="#f8e6e6"/>
<rect x="1433.6" y="1047.8" width="51.6" height="29.1" fill="#f8e5e5"/>
<rect x="1433.6" y="1076.5" width="51.6" height="29.1" fill="#faeceb"/>
<rect x="1433.6" y="1105.2" width="51.6" height="29.0" fill="#fdf6f5"/>
<rect x="1148.5" y="124.3" width="106.5" height="1013.3" fill="none" stroke="#111" stroke-width="1.8"/>
<rect x="1264.2" y="124.3" width="107.0" height="1013.3" fill="none" stroke="#111" stroke-width="1.8"/>
<rect x="1380.3" y="124.3" width="107.3" height="1013.3" fill="none" stroke="#111" stroke-width="1.8"/>
<line x1="1138.9" y1="145.3" x2="1148.5" y2="145.3" stroke="#111" stroke-width="1.7" stroke-linecap="butt"/>
<line x1="1255.0" y1="145.3" x2="1264.2" y2="145.3" stroke="#111" stroke-width="1.7" stroke-linecap="butt"/>
<line x1="1371.2" y1="145.3" x2="1380.3" y2="145.3" stroke="#111" stroke-width="1.7" stroke-linecap="butt"/>
<text transform="translate(1130.50 149.90) scale(1.015 1)" font-size="19.6" text-anchor="end" fill="#000">PC31:1</text>
<line x1="1138.9" y1="172.9" x2="1148.5" y2="172.9" stroke="#111" stroke-width="1.7" stroke-linecap="butt"/>
<line x1="1255.0" y1="172.9" x2="1264.2" y2="172.9" stroke="#111" stroke-width="1.7" stroke-linecap="butt"/>
<line x1="1371.2" y1="172.9" x2="1380.3" y2="172.9" stroke="#111" stroke-width="1.7" stroke-linecap="butt"/>
<text transform="translate(1130.50 178.50) scale(1.015 1)" font-size="19.6" text-anchor="end" fill="#000">PC32:1</text>
<line x1="1138.9" y1="200.4" x2="1148.5" y2="200.4" stroke="#111" stroke-width="1.7" stroke-linecap="butt"/>
<line x1="1255.0" y1="200.4" x2="1264.2" y2="200.4" stroke="#111" stroke-width="1.7" stroke-linecap="butt"/>
<line x1="1371.2" y1="200.4" x2="1380.3" y2="200.4" stroke="#111" stroke-width="1.7" stroke-linecap="butt"/>
<text transform="translate(1130.50 206.80) scale(1.015 1)" font-size="19.6" text-anchor="end" fill="#000">PC32:2</text>
<line x1="1138.9" y1="228.3" x2="1148.5" y2="228.3" stroke="#111" stroke-width="1.7" stroke-linecap="butt"/>
<line x1="1255.0" y1="228.3" x2="1264.2" y2="228.3" stroke="#111" stroke-width="1.7" stroke-linecap="butt"/>
<line x1="1371.2" y1="228.3" x2="1380.3" y2="228.3" stroke="#111" stroke-width="1.7" stroke-linecap="butt"/>
<text transform="translate(1130.50 235.00) scale(1.015 1)" font-size="19.6" text-anchor="end" fill="#000">PC33:1</text>
<line x1="1138.9" y1="258.4" x2="1148.5" y2="258.4" stroke="#111" stroke-width="1.7" stroke-linecap="butt"/>
<line x1="1255.0" y1="258.4" x2="1264.2" y2="258.4" stroke="#111" stroke-width="1.7" stroke-linecap="butt"/>
<line x1="1371.2" y1="258.4" x2="1380.3" y2="258.4" stroke="#111" stroke-width="1.7" stroke-linecap="butt"/>
<text transform="translate(1130.50 265.40) scale(1.015 1)" font-size="19.6" text-anchor="end" fill="#000">PC33:2</text>
<line x1="1138.9" y1="286.0" x2="1148.5" y2="286.0" stroke="#111" stroke-width="1.7" stroke-linecap="butt"/>
<line x1="1255.0" y1="286.0" x2="1264.2" y2="286.0" stroke="#111" stroke-width="1.7" stroke-linecap="butt"/>
<line x1="1371.2" y1="286.0" x2="1380.3" y2="286.0" stroke="#111" stroke-width="1.7" stroke-linecap="butt"/>
<text transform="translate(1130.50 293.40) scale(1.015 1)" font-size="19.6" text-anchor="end" fill="#000">PC33:3</text>
<line x1="1138.9" y1="316.7" x2="1148.5" y2="316.7" stroke="#111" stroke-width="1.7" stroke-linecap="butt"/>
<line x1="1255.0" y1="316.7" x2="1264.2" y2="316.7" stroke="#111" stroke-width="1.7" stroke-linecap="butt"/>
<line x1="1371.2" y1="316.7" x2="1380.3" y2="316.7" stroke="#111" stroke-width="1.7" stroke-linecap="butt"/>
<text transform="translate(1130.50 322.30) scale(1.015 1)" font-size="19.6" text-anchor="end" fill="#000">PC34:2</text>
<line x1="1138.9" y1="344.3" x2="1148.5" y2="344.3" stroke="#111" stroke-width="1.7" stroke-linecap="butt"/>
<line x1="1255.0" y1="344.3" x2="1264.2" y2="344.3" stroke="#111" stroke-width="1.7" stroke-linecap="butt"/>
<line x1="1371.2" y1="344.3" x2="1380.3" y2="344.3" stroke="#111" stroke-width="1.7" stroke-linecap="butt"/>
<text transform="translate(1130.50 350.50) scale(1.015 1)" font-size="19.6" text-anchor="end" fill="#000">PC34:4</text>
<line x1="1138.9" y1="374.5" x2="1148.5" y2="374.5" stroke="#111" stroke-width="1.7" stroke-linecap="butt"/>
<line x1="1255.0" y1="374.5" x2="1264.2" y2="374.5" stroke="#111" stroke-width="1.7" stroke-linecap="butt"/>
<line x1="1371.2" y1="374.5" x2="1380.3" y2="374.5" stroke="#111" stroke-width="1.7" stroke-linecap="butt"/>
<text transform="translate(1130.50 378.50) scale(1.015 1)" font-size="19.6" text-anchor="end" fill="#000">PC34:5</text>
<line x1="1138.9" y1="404.4" x2="1148.5" y2="404.4" stroke="#111" stroke-width="1.7" stroke-linecap="butt"/>
<line x1="1255.0" y1="404.4" x2="1264.2" y2="404.4" stroke="#111" stroke-width="1.7" stroke-linecap="butt"/>
<line x1="1371.2" y1="404.4" x2="1380.3" y2="404.4" stroke="#111" stroke-width="1.7" stroke-linecap="butt"/>
<text transform="translate(1130.50 406.70) scale(1.015 1)" font-size="19.6" text-anchor="end" fill="#000">PC35:2</text>
<line x1="1138.9" y1="432.0" x2="1148.5" y2="432.0" stroke="#111" stroke-width="1.7" stroke-linecap="butt"/>
<line x1="1255.0" y1="432.0" x2="1264.2" y2="432.0" stroke="#111" stroke-width="1.7" stroke-linecap="butt"/>
<line x1="1371.2" y1="432.0" x2="1380.3" y2="432.0" stroke="#111" stroke-width="1.7" stroke-linecap="butt"/>
<text transform="translate(1130.50 435.00) scale(1.015 1)" font-size="19.6" text-anchor="end" fill="#000">PC35:3</text>
<line x1="1138.9" y1="460.2" x2="1148.5" y2="460.2" stroke="#111" stroke-width="1.7" stroke-linecap="butt"/>
<line x1="1255.0" y1="460.2" x2="1264.2" y2="460.2" stroke="#111" stroke-width="1.7" stroke-linecap="butt"/>
<line x1="1371.2" y1="460.2" x2="1380.3" y2="460.2" stroke="#111" stroke-width="1.7" stroke-linecap="butt"/>
<text transform="translate(1130.50 465.50) scale(1.015 1)" font-size="19.6" text-anchor="end" fill="#000">PC35:4</text>
<line x1="1138.9" y1="490.0" x2="1148.5" y2="490.0" stroke="#111" stroke-width="1.7" stroke-linecap="butt"/>
<line x1="1255.0" y1="490.0" x2="1264.2" y2="490.0" stroke="#111" stroke-width="1.7" stroke-linecap="butt"/>
<line x1="1371.2" y1="490.0" x2="1380.3" y2="490.0" stroke="#111" stroke-width="1.7" stroke-linecap="butt"/>
<text transform="translate(1130.50 496.90) scale(1.015 1)" font-size="19.6" text-anchor="end" fill="#000">PC35:5</text>
<line x1="1138.9" y1="517.8" x2="1148.5" y2="517.8" stroke="#111" stroke-width="1.7" stroke-linecap="butt"/>
<line x1="1255.0" y1="517.8" x2="1264.2" y2="517.8" stroke="#111" stroke-width="1.7" stroke-linecap="butt"/>
<line x1="1371.2" y1="517.8" x2="1380.3" y2="517.8" stroke="#111" stroke-width="1.7" stroke-linecap="butt"/>
<text transform="translate(1130.50 525.60) scale(1.015 1)" font-size="19.6" text-anchor="end" fill="#000">PC35:6</text>
<line x1="1138.9" y1="545.0" x2="1148.5" y2="545.0" stroke="#111" stroke-width="1.7" stroke-linecap="butt"/>
<line x1="1255.0" y1="545.0" x2="1264.2" y2="545.0" stroke="#111" stroke-width="1.7" stroke-linecap="butt"/>
<line x1="1371.2" y1="545.0" x2="1380.3" y2="545.0" stroke="#111" stroke-width="1.7" stroke-linecap="butt"/>
<text transform="translate(1130.50 554.60) scale(1.015 1)" font-size="19.6" text-anchor="end" fill="#000">PC36:1</text>
<line x1="1138.9" y1="575.4" x2="1148.5" y2="575.4" stroke="#111" stroke-width="1.7" stroke-linecap="butt"/>
<line x1="1255.0" y1="575.4" x2="1264.2" y2="575.4" stroke="#111" stroke-width="1.7" stroke-linecap="butt"/>
<line x1="1371.2" y1="575.4" x2="1380.3" y2="575.4" stroke="#111" stroke-width="1.7" stroke-linecap="butt"/>
<text transform="translate(1129.60 585.10) scale(1.1 1)" font-size="23.0" font-weight="bold" text-anchor="end" fill="#000">PC36:2</text>
<line x1="1138.9" y1="603.1" x2="1148.5" y2="603.1" stroke="#111" stroke-width="1.7" stroke-linecap="butt"/>
<line x1="1255.0" y1="603.1" x2="1264.2" y2="603.1" stroke="#111" stroke-width="1.7" stroke-linecap="butt"/>
<line x1="1371.2" y1="603.1" x2="1380.3" y2="603.1" stroke="#111" stroke-width="1.7" stroke-linecap="butt"/>
<text transform="translate(1130.50 612.30) scale(1.015 1)" font-size="19.6" text-anchor="end" fill="#000">PC36:3</text>
<line x1="1138.9" y1="632.8" x2="1148.5" y2="632.8" stroke="#111" stroke-width="1.7" stroke-linecap="butt"/>
<line x1="1255.0" y1="632.8" x2="1264.2" y2="632.8" stroke="#111" stroke-width="1.7" stroke-linecap="butt"/>
<line x1="1371.2" y1="632.8" x2="1380.3" y2="632.8" stroke="#111" stroke-width="1.7" stroke-linecap="butt"/>
<text transform="translate(1130.50 641.00) scale(1.015 1)" font-size="19.6" text-anchor="end" fill="#000">PC36:5</text>
<line x1="1138.9" y1="660.9" x2="1148.5" y2="660.9" stroke="#111" stroke-width="1.7" stroke-linecap="butt"/>
<line x1="1255.0" y1="660.9" x2="1264.2" y2="660.9" stroke="#111" stroke-width="1.7" stroke-linecap="butt"/>
<line x1="1371.2" y1="660.9" x2="1380.3" y2="660.9" stroke="#111" stroke-width="1.7" stroke-linecap="butt"/>
<text transform="translate(1130.50 669.90) scale(1.015 1)" font-size="19.6" text-anchor="end" fill="#000">PC36:6</text>
<line x1="1138.9" y1="690.2" x2="1148.5" y2="690.2" stroke="#111" stroke-width="1.7" stroke-linecap="butt"/>
<line x1="1255.0" y1="690.2" x2="1264.2" y2="690.2" stroke="#111" stroke-width="1.7" stroke-linecap="butt"/>
<line x1="1371.2" y1="690.2" x2="1380.3" y2="690.2" stroke="#111" stroke-width="1.7" stroke-linecap="butt"/>
<text transform="translate(1130.50 698.20) scale(1.015 1)" font-size="19.6" text-anchor="end" fill="#000">PC37:2</text>
<line x1="1138.9" y1="718.8" x2="1148.5" y2="718.8" stroke="#111" stroke-width="1.7" stroke-linecap="butt"/>
<line x1="1255.0" y1="718.8" x2="1264.2" y2="718.8" stroke="#111" stroke-width="1.7" stroke-linecap="butt"/>
<line x1="1371.2" y1="718.8" x2="1380.3" y2="718.8" stroke="#111" stroke-width="1.7" stroke-linecap="butt"/>
<text transform="translate(1130.50 726.40) scale(1.015 1)" font-size="19.6" text-anchor="end" fill="#000">PC37:5</text>
<line x1="1138.9" y1="746.3" x2="1148.5" y2="746.3" stroke="#111" stroke-width="1.7" stroke-linecap="butt"/>
<line x1="1255.0" y1="746.3" x2="1264.2" y2="746.3" stroke="#111" stroke-width="1.7" stroke-linecap="butt"/>
<line x1="1371.2" y1="746.3" x2="1380.3" y2="746.3" stroke="#111" stroke-width="1.7" stroke-linecap="butt"/>
<text transform="translate(1130.50 754.50) scale(1.015 1)" font-size="19.6" text-anchor="end" fill="#000">PC37:6</text>
<line x1="1138.9" y1="776.1" x2="1148.5" y2="776.1" stroke="#111" stroke-width="1.7" stroke-linecap="butt"/>
<line x1="1255.0" y1="776.1" x2="1264.2" y2="776.1" stroke="#111" stroke-width="1.7" stroke-linecap="butt"/>
<line x1="1371.2" y1="776.1" x2="1380.3" y2="776.1" stroke="#111" stroke-width="1.7" stroke-linecap="butt"/>
<text transform="translate(1130.50 783.20) scale(1.015 1)" font-size="19.6" text-anchor="end" fill="#000">PC38:2</text>
<line x1="1138.9" y1="804.3" x2="1148.5" y2="804.3" stroke="#111" stroke-width="1.7" stroke-linecap="butt"/>
<line x1="1255.0" y1="804.3" x2="1264.2" y2="804.3" stroke="#111" stroke-width="1.7" stroke-linecap="butt"/>
<line x1="1371.2" y1="804.3" x2="1380.3" y2="804.3" stroke="#111" stroke-width="1.7" stroke-linecap="butt"/>
<text transform="translate(1130.50 813.00) scale(1.015 1)" font-size="19.6" text-anchor="end" fill="#000">PC38:4</text>
<line x1="1138.9" y1="832.1" x2="1148.5" y2="832.1" stroke="#111" stroke-width="1.7" stroke-linecap="butt"/>
<line x1="1255.0" y1="832.1" x2="1264.2" y2="832.1" stroke="#111" stroke-width="1.7" stroke-linecap="butt"/>
<line x1="1371.2" y1="832.1" x2="1380.3" y2="832.1" stroke="#111" stroke-width="1.7" stroke-linecap="butt"/>
<text transform="translate(1130.50 839.90) scale(1.015 1)" font-size="19.6" text-anchor="end" fill="#000">PC38:5</text>
<line x1="1138.9" y1="861.8" x2="1148.5" y2="861.8" stroke="#111" stroke-width="1.7" stroke-linecap="butt"/>
<line x1="1255.0" y1="861.8" x2="1264.2" y2="861.8" stroke="#111" stroke-width="1.7" stroke-linecap="butt"/>
<line x1="1371.2" y1="861.8" x2="1380.3" y2="861.8" stroke="#111" stroke-width="1.7" stroke-linecap="butt"/>
<text transform="translate(1129.60 871.10) scale(1.1 1)" font-size="23.0" font-weight="bold" text-anchor="end" fill="#000">PC38:6</text>
<line x1="1138.9" y1="891.4" x2="1148.5" y2="891.4" stroke="#111" stroke-width="1.7" stroke-linecap="butt"/>
<line x1="1255.0" y1="891.4" x2="1264.2" y2="891.4" stroke="#111" stroke-width="1.7" stroke-linecap="butt"/>
<line x1="1371.2" y1="891.4" x2="1380.3" y2="891.4" stroke="#111" stroke-width="1.7" stroke-linecap="butt"/>
<text transform="translate(1130.50 896.40) scale(1.015 1)" font-size="19.6" text-anchor="end" fill="#000">PC38:7</text>
<line x1="1138.9" y1="921.6" x2="1148.5" y2="921.6" stroke="#111" stroke-width="1.7" stroke-linecap="butt"/>
<line x1="1255.0" y1="921.6" x2="1264.2" y2="921.6" stroke="#111" stroke-width="1.7" stroke-linecap="butt"/>
<line x1="1371.2" y1="921.6" x2="1380.3" y2="921.6" stroke="#111" stroke-width="1.7" stroke-linecap="butt"/>
<text transform="translate(1130.50 924.70) scale(1.015 1)" font-size="19.6" text-anchor="end" fill="#000">PC38:8</text>
<line x1="1138.9" y1="949.1" x2="1148.5" y2="949.1" stroke="#111" stroke-width="1.7" stroke-linecap="butt"/>
<line x1="1255.0" y1="949.1" x2="1264.2" y2="949.1" stroke="#111" stroke-width="1.7" stroke-linecap="butt"/>
<line x1="1371.2" y1="949.1" x2="1380.3" y2="949.1" stroke="#111" stroke-width="1.7" stroke-linecap="butt"/>
<text transform="translate(1130.50 955.20) scale(1.015 1)" font-size="19.6" text-anchor="end" fill="#000">PC39:4</text>
<line x1="1138.9" y1="979.4" x2="1148.5" y2="979.4" stroke="#111" stroke-width="1.7" stroke-linecap="butt"/>
<line x1="1255.0" y1="979.4" x2="1264.2" y2="979.4" stroke="#111" stroke-width="1.7" stroke-linecap="butt"/>
<line x1="1371.2" y1="979.4" x2="1380.3" y2="979.4" stroke="#111" stroke-width="1.7" stroke-linecap="butt"/>
<text transform="translate(1130.50 983.80) scale(1.015 1)" font-size="19.6" text-anchor="end" fill="#000">PC39:5</text>
<line x1="1138.9" y1="1007.1" x2="1148.5" y2="1007.1" stroke="#111" stroke-width="1.7" stroke-linecap="butt"/>
<line x1="1255.0" y1="1007.1" x2="1264.2" y2="1007.1" stroke="#111" stroke-width="1.7" stroke-linecap="butt"/>
<line x1="1371.2" y1="1007.1" x2="1380.3" y2="1007.1" stroke="#111" stroke-width="1.7" stroke-linecap="butt"/>
<text transform="translate(1130.50 1012.40) scale(1.015 1)" font-size="19.6" text-anchor="end" fill="#000">PC39:6</text>
<line x1="1138.9" y1="1034.5" x2="1148.5" y2="1034.5" stroke="#111" stroke-width="1.7" stroke-linecap="butt"/>
<line x1="1255.0" y1="1034.5" x2="1264.2" y2="1034.5" stroke="#111" stroke-width="1.7" stroke-linecap="butt"/>
<line x1="1371.2" y1="1034.5" x2="1380.3" y2="1034.5" stroke="#111" stroke-width="1.7" stroke-linecap="butt"/>
<text transform="translate(1130.50 1042.50) scale(1.015 1)" font-size="19.6" text-anchor="end" fill="#000">PC40:7</text>
<line x1="1138.9" y1="1062.6" x2="1148.5" y2="1062.6" stroke="#111" stroke-width="1.7" stroke-linecap="butt"/>
<line x1="1255.0" y1="1062.6" x2="1264.2" y2="1062.6" stroke="#111" stroke-width="1.7" stroke-linecap="butt"/>
<line x1="1371.2" y1="1062.6" x2="1380.3" y2="1062.6" stroke="#111" stroke-width="1.7" stroke-linecap="butt"/>
<text transform="translate(1130.50 1070.70) scale(1.015 1)" font-size="19.6" text-anchor="end" fill="#000">PC40:8</text>
<line x1="1138.9" y1="1092.7" x2="1148.5" y2="1092.7" stroke="#111" stroke-width="1.7" stroke-linecap="butt"/>
<line x1="1255.0" y1="1092.7" x2="1264.2" y2="1092.7" stroke="#111" stroke-width="1.7" stroke-linecap="butt"/>
<line x1="1371.2" y1="1092.7" x2="1380.3" y2="1092.7" stroke="#111" stroke-width="1.7" stroke-linecap="butt"/>
<text transform="translate(1130.50 1099.30) scale(1.015 1)" font-size="19.6" text-anchor="end" fill="#000">PC40:9</text>
<line x1="1138.9" y1="1123.0" x2="1148.5" y2="1123.0" stroke="#111" stroke-width="1.7" stroke-linecap="butt"/>
<line x1="1255.0" y1="1123.0" x2="1264.2" y2="1123.0" stroke="#111" stroke-width="1.7" stroke-linecap="butt"/>
<line x1="1371.2" y1="1123.0" x2="1380.3" y2="1123.0" stroke="#111" stroke-width="1.7" stroke-linecap="butt"/>
<text transform="translate(1129.60 1131.40) scale(1.1 1)" font-size="23.0" font-weight="bold" text-anchor="end" fill="#000">PC40:10</text>
<text transform="translate(1185.00 112.60) rotate(-90) scale(0.93 1)" font-size="26.5" font-weight="bold" text-anchor="start" fill="#000">OP</text>
<text transform="translate(1233.00 112.60) rotate(-90) scale(0.93 1)" font-size="26.5" font-weight="bold" text-anchor="start" fill="#000">DA</text>
<text transform="translate(1302.80 112.60) rotate(-90) scale(0.93 1)" font-size="26.5" font-weight="bold" text-anchor="start" fill="#000">OP</text>
<text transform="translate(1353.00 112.60) rotate(-90) scale(0.93 1)" font-size="26.5" font-weight="bold" text-anchor="start" fill="#000">HG-OP</text>
<text transform="translate(1417.30 112.60) rotate(-90) scale(0.93 1)" font-size="26.5" font-weight="bold" text-anchor="start" fill="#000">DA</text>
<text transform="translate(1470.00 112.60) rotate(-90) scale(0.93 1)" font-size="26.5" font-weight="bold" text-anchor="start" fill="#000">HG-DA</text>
</g>
<g id="panelC">
<text transform="translate(0.60 1290.60) scale(0.902 1)" font-size="61.6" font-weight="bold" text-anchor="start" fill="#000">C</text>
<line x1="103.0" y1="1442.8" x2="635.0" y2="1442.8" stroke="#d9d9d9" stroke-width="1.8" stroke-linecap="butt"/>
<line x1="103.0" y1="1663.6" x2="635.0" y2="1663.6" stroke="#d9d9d9" stroke-width="1.8" stroke-linecap="butt"/>
<line x1="103.0" y1="1884.0" x2="635.0" y2="1884.0" stroke="#d9d9d9" stroke-width="1.8" stroke-linecap="butt"/>
<line x1="103.0" y1="2104.0" x2="635.0" y2="2104.0" stroke="#d9d9d9" stroke-width="1.8" stroke-linecap="butt"/>
<text x="94.40" y="1451.20" font-size="32.4" font-weight="bold" text-anchor="end" fill="#000">60</text>
<text x="94.40" y="1683.20" font-size="32.4" font-weight="bold" text-anchor="end" fill="#000">50</text>
<text x="94.40" y="1897.70" font-size="32.4" font-weight="bold" text-anchor="end" fill="#000">40</text>
<text x="94.40" y="2119.20" font-size="32.4" font-weight="bold" text-anchor="end" fill="#000">30</text>
<text x="84.40" y="2227.20" font-size="32.4" font-weight="bold" text-anchor="end" fill="#000">0</text>
<text x="37.50" y="1892.20" font-size="31.6" font-weight="bold" text-anchor="middle" fill="#000" transform="rotate(-90 37.50 1892.20)">Percentage</text>
<rect x="158.3" y="1771.3" width="25.7" height="438.5" fill="#dcdedd" stroke="#000" stroke-width="1.7"/>
<rect x="191.7" y="1830.0" width="28.2" height="379.8" fill="#737373" stroke="#000" stroke-width="1.7"/>
<rect x="227.3" y="1775.2" width="25.9" height="434.6" fill="#ffffff" stroke="#000" stroke-width="1.7"/>
<rect x="261.0" y="1936.4" width="25.8" height="273.8" fill="#000"/>
<rect x="294.5" y="1814.4" width="25.7" height="395.4" fill="#fbf03b" stroke="#000" stroke-width="1.7"/>
<rect x="328.0" y="1837.3" width="25.5" height="372.5" fill="#5b9de3" stroke="#000" stroke-width="1.7"/>
<rect x="411.0" y="1702.3" width="25.4" height="507.5" fill="#dcdedd" stroke="#000" stroke-width="1.7"/>
<rect x="444.3" y="1636.0" width="25.5" height="573.8" fill="#737373" stroke="#000" stroke-width="1.7"/>
<rect x="477.9" y="1684.5" width="25.7" height="525.3" fill="#ffffff" stroke="#000" stroke-width="1.7"/>
<rect x="511.1" y="1499.3" width="25.9" height="710.9" fill="#000"/>
<rect x="544.6" y="1656.4" width="28.0" height="553.4" fill="#fbf03b" stroke="#000" stroke-width="1.7"/>
<rect x="581.1" y="1628.1" width="25.1" height="581.7" fill="#5b9de3" stroke="#000" stroke-width="1.7"/>
<line x1="170.8" y1="1704.3" x2="170.8" y2="1837.0" stroke="#000" stroke-width="1.6" stroke-linecap="butt"/>
<line x1="164.3" y1="1704.3" x2="177.3" y2="1704.3" stroke="#000" stroke-width="1.6" stroke-linecap="butt"/>
<line x1="164.3" y1="1837.0" x2="177.3" y2="1837.0" stroke="#000" stroke-width="1.6" stroke-linecap="butt"/>
<line x1="205.9" y1="1770.6" x2="205.9" y2="1887.8" stroke="#000" stroke-width="1.6" stroke-linecap="butt"/>
<line x1="199.4" y1="1770.6" x2="212.4" y2="1770.6" stroke="#000" stroke-width="1.6" stroke-linecap="butt"/>
<line x1="199.4" y1="1887.8" x2="212.4" y2="1887.8" stroke="#000" stroke-width="1.6" stroke-linecap="butt"/>
<line x1="240.3" y1="1755.3" x2="240.3" y2="1793.8" stroke="#000" stroke-width="1.6" stroke-linecap="butt"/>
<line x1="233.8" y1="1755.3" x2="246.8" y2="1755.3" stroke="#000" stroke-width="1.6" stroke-linecap="butt"/>
<line x1="233.8" y1="1793.8" x2="246.8" y2="1793.8" stroke="#000" stroke-width="1.6" stroke-linecap="butt"/>
<line x1="274.4" y1="1902.2" x2="274.4" y2="1936.4" stroke="#000" stroke-width="1.6" stroke-linecap="butt"/>
<line x1="267.9" y1="1902.2" x2="280.9" y2="1902.2" stroke="#000" stroke-width="1.6" stroke-linecap="butt"/>
<line x1="304.6" y1="1757.0" x2="304.6" y2="1870.4" stroke="#000" stroke-width="1.6" stroke-linecap="butt"/>
<line x1="298.1" y1="1757.0" x2="311.1" y2="1757.0" stroke="#000" stroke-width="1.6" stroke-linecap="butt"/>
<line x1="298.1" y1="1870.4" x2="311.1" y2="1870.4" stroke="#000" stroke-width="1.6" stroke-linecap="butt"/>
<line x1="338.6" y1="1792.6" x2="338.6" y2="1880.4" stroke="#000" stroke-width="1.6" stroke-linecap="butt"/>
<line x1="332.1" y1="1792.6" x2="345.1" y2="1792.6" stroke="#000" stroke-width="1.6" stroke-linecap="butt"/>
<line x1="332.1" y1="1880.4" x2="345.1" y2="1880.4" stroke="#000" stroke-width="1.6" stroke-linecap="butt"/>
<line x1="425.0" y1="1620.4" x2="425.0" y2="1783.4" stroke="#000" stroke-width="1.6" stroke-linecap="butt"/>
<line x1="418.5" y1="1620.4" x2="431.5" y2="1620.4" stroke="#000" stroke-width="1.6" stroke-linecap="butt"/>
<line x1="418.5" y1="1783.4" x2="431.5" y2="1783.4" stroke="#000" stroke-width="1.6" stroke-linecap="butt"/>
<line x1="456.1" y1="1574.2" x2="456.1" y2="1695.5" stroke="#000" stroke-width="1.6" stroke-linecap="butt"/>
<line x1="449.6" y1="1574.2" x2="462.6" y2="1574.2" stroke="#000" stroke-width="1.6" stroke-linecap="butt"/>
<line x1="449.6" y1="1695.5" x2="462.6" y2="1695.5" stroke="#000" stroke-width="1.6" stroke-linecap="butt"/>
<line x1="490.4" y1="1661.0" x2="490.4" y2="1707.0" stroke="#000" stroke-width="1.6" stroke-linecap="butt"/>
<line x1="483.9" y1="1661.0" x2="496.9" y2="1661.0" stroke="#000" stroke-width="1.6" stroke-linecap="butt"/>
<line x1="483.9" y1="1707.0" x2="496.9" y2="1707.0" stroke="#000" stroke-width="1.6" stroke-linecap="butt"/>
<line x1="522.4" y1="1463.7" x2="522.4" y2="1499.3" stroke="#000" stroke-width="1.6" stroke-linecap="butt"/>
<line x1="515.9" y1="1463.7" x2="528.9" y2="1463.7" stroke="#000" stroke-width="1.6" stroke-linecap="butt"/>
<line x1="558.8" y1="1587.1" x2="558.8" y2="1723.7" stroke="#000" stroke-width="1.6" stroke-linecap="butt"/>
<line x1="552.3" y1="1587.1" x2="565.3" y2="1587.1" stroke="#000" stroke-width="1.6" stroke-linecap="butt"/>
<line x1="552.3" y1="1723.7" x2="565.3" y2="1723.7" stroke="#000" stroke-width="1.6" stroke-linecap="butt"/>
<line x1="593.5" y1="1579.3" x2="593.5" y2="1675.0" stroke="#000" stroke-width="1.6" stroke-linecap="butt"/>
<line x1="587.0" y1="1579.3" x2="600.0" y2="1579.3" stroke="#000" stroke-width="1.6" stroke-linecap="butt"/>
<line x1="587.0" y1="1675.0" x2="600.0" y2="1675.0" stroke="#000" stroke-width="1.6" stroke-linecap="butt"/>
<line x1="119.2" y1="1442.0" x2="119.2" y2="2213.4" stroke="#000" stroke-width="2.2" stroke-linecap="butt"/>
<line x1="103.0" y1="2212.4" x2="635.0" y2="2212.4" stroke="#000" stroke-width="2.2" stroke-linecap="butt"/>
<line x1="92.6" y1="2151.1" x2="133.4" y2="2140.3" stroke="#000" stroke-width="1.8" stroke-linecap="butt"/>
<line x1="95.9" y1="2164.0" x2="136.8" y2="2152.4" stroke="#000" stroke-width="1.8" stroke-linecap="butt"/>
<text x="245.40" y="2257.20" font-size="37.5" font-weight="bold" text-anchor="middle" fill="#000">PC</text>
<text x="511.80" y="2257.20" font-size="37.5" font-weight="bold" text-anchor="middle" fill="#000">TAG</text>
<polyline points="237.6,1747.0 237.6,1702.8 272.8,1702.8 272.8,1869.4" fill="none" stroke="#000" stroke-width="2.3" stroke-linejoin="miter"/>
<text x="257.20" y="1703.19" font-size="28.5" text-anchor="middle" fill="#000">**</text>
<polyline points="272.8,1681.5 272.8,1651.0 308.4,1651.0 308.4,1723.8" fill="none" stroke="#000" stroke-width="2.3" stroke-linejoin="miter"/>
<text x="293.10" y="1651.09" font-size="28.5" text-anchor="middle" fill="#000">*</text>
<polyline points="272.8,1630.2 272.8,1585.6 344.6,1585.6 344.6,1756.6" fill="none" stroke="#000" stroke-width="2.3" stroke-linejoin="miter"/>
<text x="313.10" y="1584.39" font-size="28.5" text-anchor="middle" fill="#000">*</text>
<polyline points="486.5,1624.0 486.5,1428.5 526.7,1428.5 526.7,1453.5" fill="none" stroke="#000" stroke-width="2.3" stroke-linejoin="miter"/>
<text x="505.30" y="1428.79" font-size="28.5" text-anchor="middle" fill="#000">**</text>
<polyline points="526.7,1407.5 526.7,1382.1 558.3,1382.1 558.3,1558.4" fill="none" stroke="#000" stroke-width="2.3" stroke-linejoin="miter"/>
<text x="542.40" y="1383.29" font-size="28.5" text-anchor="middle" fill="#000">*</text>
<polyline points="526.7,1362.0 526.7,1336.4 594.5,1336.4 594.5,1553.8" fill="none" stroke="#000" stroke-width="2.3" stroke-linejoin="miter"/>
<text x="558.50" y="1336.99" font-size="28.5" text-anchor="middle" fill="#000">*</text>
<rect x="664.3" y="1600.4" width="46.0" height="45.8" fill="#dcdedd" stroke="#000" stroke-width="1.7"/>
<rect x="789.4" y="1600.4" width="46.0" height="45.8" fill="#737373" stroke="#000" stroke-width="1.7"/>
<rect x="664.3" y="1719.7" width="46.0" height="45.8" fill="#ffffff" stroke="#000" stroke-width="1.7"/>
<rect x="784.8" y="1720.0" width="46.0" height="45.8" fill="#000000" stroke="#000" stroke-width="1.7"/>
<rect x="664.3" y="1834.0" width="46.0" height="45.8" fill="#fbf03b" stroke="#000" stroke-width="1.7"/>
<rect x="664.3" y="1961.2" width="46.0" height="45.8" fill="#5b9de3" stroke="#000" stroke-width="1.7"/>
<text x="717.80" y="1632.70" font-size="29.6" font-weight="bold" text-anchor="start" fill="#000">DA</text>
<text x="851.50" y="1632.70" font-size="29.6" font-weight="bold" text-anchor="start" fill="#000">HG-DA</text>
<text x="718.60" y="1752.00" font-size="29.6" font-weight="bold" text-anchor="start" fill="#000">OP</text>
<text x="837.00" y="1752.00" font-size="29.6" font-weight="bold" text-anchor="start" fill="#000">HG-OP</text>
<text x="717.80" y="1866.10" font-size="29.6" font-weight="bold" text-anchor="start" fill="#000">HG Mix 3:1 (OP:DA)</text>
<text x="717.80" y="1993.30" font-size="29.6" font-weight="bold" text-anchor="start" fill="#000">HG Mix 9:1 (OP:DA)</text>
</g>
<g id="panelD">
<text transform="translate(929.60 1288.80) scale(0.947 1)" font-size="58.6" font-weight="bold" text-anchor="start" fill="#000">D</text>
<rect x="1004.7" y="1275.8" width="118.4" height="17.8" fill="url(#cb)"/>
<line x1="1006.3" y1="1262.2" x2="1006.3" y2="1276.4" stroke="#000" stroke-width="2.4" stroke-linecap="butt"/>
<line x1="1121.8" y1="1262.2" x2="1121.8" y2="1276.4" stroke="#000" stroke-width="2.4" stroke-linecap="butt"/>
<text x="992.10" y="1258.10" font-size="15.9" font-weight="bold" text-anchor="start" fill="#000">-1.5</text>
<text x="1131.30" y="1258.10" font-size="15.9" font-weight="bold" text-anchor="end" fill="#000">1.5</text>
<text x="1035.6" y="1258.0" font-size="15.4" font-weight="bold">Log<tspan font-size="10" dy="3.4">2</tspan><tspan dy="-3.4">FC</tspan></text>
<rect x="1225.6" y="1306.0" width="62.0" height="31.3" fill="#fbfdfc"/>
<rect x="1287.2" y="1306.0" width="62.0" height="31.3" fill="#ecf4ed"/>
<rect x="1348.8" y="1306.0" width="62.3" height="31.3" fill="#e0ede2"/>
<rect x="1410.7" y="1306.0" width="64.3" height="31.3" fill="#f5dfdf"/>
<rect x="1225.6" y="1336.9" width="62.0" height="29.1" fill="#b9d8bf"/>
<rect x="1287.2" y="1336.9" width="62.0" height="29.1" fill="#e7f1e8"/>
<rect x="1348.8" y="1336.9" width="62.3" height="29.1" fill="#d3e6d7"/>
<rect x="1410.7" y="1336.9" width="64.3" height="29.1" fill="#ebf3ec"/>
<rect x="1225.6" y="1365.5" width="62.0" height="29.1" fill="#edf6ee"/>
<rect x="1287.2" y="1365.5" width="62.0" height="29.1" fill="#da9092"/>
<rect x="1348.8" y="1365.5" width="62.3" height="29.1" fill="#dfa0a2"/>
<rect x="1410.7" y="1365.5" width="64.3" height="29.1" fill="#c62026"/>
<rect x="1225.6" y="1394.2" width="62.0" height="29.1" fill="#d3e6d7"/>
<rect x="1287.2" y="1394.2" width="62.0" height="29.1" fill="#cbe2d0"/>
<rect x="1348.8" y="1394.2" width="62.3" height="29.1" fill="#bddbc4"/>
<rect x="1410.7" y="1394.2" width="64.3" height="29.1" fill="#fdf0ef"/>
<rect x="1225.6" y="1422.8" width="62.0" height="29.1" fill="#e7f1e8"/>
<rect x="1287.2" y="1422.8" width="62.0" height="29.1" fill="#f3f8f3"/>
<rect x="1348.8" y="1422.8" width="62.3" height="29.1" fill="#e0ede2"/>
<rect x="1410.7" y="1422.8" width="64.3" height="29.1" fill="#fae6e6"/>
<rect x="1225.6" y="1451.5" width="62.0" height="29.1" fill="#d0e4d4"/>
<rect x="1348.8" y="1451.5" width="62.3" height="29.1" fill="#f5f9f5"/>
<rect x="1410.7" y="1451.5" width="64.3" height="29.1" fill="#f7e2e2"/>
<rect x="1225.6" y="1480.2" width="62.0" height="29.1" fill="#b6d6bc"/>
<rect x="1287.2" y="1480.2" width="62.0" height="29.1" fill="#f5e0df"/>
<rect x="1348.8" y="1480.2" width="62.3" height="29.1" fill="#fbecec"/>
<rect x="1410.7" y="1480.2" width="64.3" height="29.1" fill="#d4787a"/>
<rect x="1225.6" y="1508.8" width="62.0" height="29.1" fill="#dcebdf"/>
<rect x="1287.2" y="1508.8" width="62.0" height="29.1" fill="#e3abae"/>
<rect x="1348.8" y="1508.8" width="62.3" height="29.1" fill="#e8b9bb"/>
<rect x="1410.7" y="1508.8" width="64.3" height="29.1" fill="#c4242a"/>
<rect x="1225.6" y="1537.5" width="62.0" height="29.1" fill="#f3f8f4"/>
<rect x="1287.2" y="1537.5" width="62.0" height="29.1" fill="#eabfc0"/>
<rect x="1348.8" y="1537.5" width="62.3" height="29.1" fill="#eecacb"/>
<rect x="1410.7" y="1537.5" width="64.3" height="29.1" fill="#d27478"/>
<rect x="1225.6" y="1566.1" width="62.0" height="29.1" fill="#8dc296"/>
<rect x="1287.2" y="1566.1" width="62.0" height="29.1" fill="#e3eee5"/>
<rect x="1348.8" y="1566.1" width="62.3" height="29.1" fill="#d9eadc"/>
<rect x="1410.7" y="1566.1" width="64.3" height="29.1" fill="#8ec397"/>
<rect x="1225.6" y="1594.8" width="62.0" height="29.1" fill="#fdfcfb"/>
<rect x="1287.2" y="1594.8" width="62.0" height="29.1" fill="#faefee"/>
<rect x="1410.7" y="1594.8" width="64.3" height="29.1" fill="#92c59a"/>
<rect x="1225.6" y="1623.5" width="62.0" height="29.1" fill="#fbfdfb"/>
<rect x="1287.2" y="1623.5" width="62.0" height="29.1" fill="#fbfdfb"/>
<rect x="1348.8" y="1623.5" width="62.3" height="29.1" fill="#e9f3ea"/>
<rect x="1410.7" y="1623.5" width="64.3" height="29.1" fill="#a3cdaa"/>
<rect x="1225.6" y="1652.1" width="62.0" height="29.1" fill="#deecdf"/>
<rect x="1287.2" y="1652.1" width="62.0" height="29.1" fill="#fcfdfc"/>
<rect x="1348.8" y="1652.1" width="62.3" height="29.1" fill="#fbfdfb"/>
<rect x="1410.7" y="1652.1" width="64.3" height="29.1" fill="#c0dcc5"/>
<rect x="1225.6" y="1680.8" width="62.0" height="29.1" fill="#85bd8b"/>
<rect x="1287.2" y="1680.8" width="62.0" height="29.1" fill="#e6f0e7"/>
<rect x="1348.8" y="1680.8" width="62.3" height="29.1" fill="#d9eadc"/>
<rect x="1410.7" y="1680.8" width="64.3" height="29.1" fill="#fae6e6"/>
<rect x="1225.6" y="1709.4" width="62.0" height="29.1" fill="#b0d4b7"/>
<rect x="1287.2" y="1709.4" width="62.0" height="29.1" fill="#e4efe5"/>
<rect x="1348.8" y="1709.4" width="62.3" height="29.1" fill="#d9eadc"/>
<rect x="1410.7" y="1709.4" width="64.3" height="29.1" fill="#f7e2e2"/>
<rect x="1225.6" y="1738.1" width="62.0" height="29.1" fill="#6baf71"/>
<rect x="1287.2" y="1738.1" width="62.0" height="29.1" fill="#cfe4d3"/>
<rect x="1348.8" y="1738.1" width="62.3" height="29.1" fill="#c3dec8"/>
<rect x="1410.7" y="1738.1" width="64.3" height="29.1" fill="#f0cdd0"/>
<rect x="1225.6" y="1766.8" width="62.0" height="29.1" fill="#8dc296"/>
<rect x="1287.2" y="1766.8" width="62.0" height="29.1" fill="#f5e0df"/>
<rect x="1348.8" y="1766.8" width="62.3" height="29.1" fill="#f9ebeb"/>
<rect x="1410.7" y="1766.8" width="64.3" height="29.1" fill="#e9b9bc"/>
<rect x="1287.2" y="1795.4" width="62.0" height="29.1" fill="#ecc8cb"/>
<rect x="1348.8" y="1795.4" width="62.3" height="29.1" fill="#f4dada"/>
<rect x="1410.7" y="1795.4" width="64.3" height="29.1" fill="#d98a8c"/>
<rect x="1225.6" y="1824.1" width="62.0" height="29.1" fill="#a8cfae"/>
<rect x="1287.2" y="1824.1" width="62.0" height="29.1" fill="#de989a"/>
<rect x="1348.8" y="1824.1" width="62.3" height="29.1" fill="#e2a8aa"/>
<rect x="1410.7" y="1824.1" width="64.3" height="29.1" fill="#c8353a"/>
<rect x="1225.6" y="1852.7" width="62.0" height="29.1" fill="#9dcaa4"/>
<rect x="1287.2" y="1852.7" width="62.0" height="29.1" fill="#dcebdf"/>
<rect x="1348.8" y="1852.7" width="62.3" height="29.1" fill="#d0e4d4"/>
<rect x="1410.7" y="1852.7" width="64.3" height="29.1" fill="#bfdcc4"/>
<rect x="1225.6" y="1881.4" width="62.0" height="29.1" fill="#dcebdf"/>
<rect x="1287.2" y="1881.4" width="62.0" height="29.1" fill="#c4dec9"/>
<rect x="1348.8" y="1881.4" width="62.3" height="29.1" fill="#bad9c0"/>
<rect x="1410.7" y="1881.4" width="64.3" height="29.1" fill="#b6d6bc"/>
<rect x="1225.6" y="1910.1" width="62.0" height="29.1" fill="#d9eadc"/>
<rect x="1287.2" y="1910.1" width="62.0" height="29.1" fill="#bad9c0"/>
<rect x="1348.8" y="1910.1" width="62.3" height="29.1" fill="#b4d5ba"/>
<rect x="1410.7" y="1910.1" width="64.3" height="29.1" fill="#6baf71"/>
<rect x="1225.6" y="1938.7" width="62.0" height="29.1" fill="#edf6ee"/>
<rect x="1287.2" y="1938.7" width="62.0" height="29.1" fill="#e7f1e8"/>
<rect x="1348.8" y="1938.7" width="62.3" height="29.1" fill="#d3e6d7"/>
<rect x="1225.6" y="1967.4" width="62.0" height="29.1" fill="#88bf90"/>
<rect x="1287.2" y="1967.4" width="62.0" height="29.1" fill="#bad9c0"/>
<rect x="1348.8" y="1967.4" width="62.3" height="29.1" fill="#b2d5b9"/>
<rect x="1410.7" y="1967.4" width="64.3" height="29.1" fill="#f5dcdc"/>
<rect x="1225.6" y="1996.0" width="62.0" height="29.1" fill="#82bb89"/>
<rect x="1287.2" y="1996.0" width="62.0" height="29.1" fill="#c1ddc8"/>
<rect x="1348.8" y="1996.0" width="62.3" height="29.1" fill="#b9d8bf"/>
<rect x="1410.7" y="1996.0" width="64.3" height="29.1" fill="#f9ecea"/>
<rect x="1225.6" y="2024.7" width="62.0" height="29.1" fill="#98c8a0"/>
<rect x="1287.2" y="2024.7" width="62.0" height="29.1" fill="#e9f3ea"/>
<rect x="1348.8" y="2024.7" width="62.3" height="29.1" fill="#dcebdf"/>
<rect x="1410.7" y="2024.7" width="64.3" height="29.1" fill="#fbf0ee"/>
<rect x="1225.6" y="2053.4" width="62.0" height="29.1" fill="#d6e8d9"/>
<rect x="1287.2" y="2053.4" width="62.0" height="29.1" fill="#f7e7e6"/>
<rect x="1348.8" y="2053.4" width="62.3" height="29.1" fill="#fdf1f0"/>
<rect x="1410.7" y="2053.4" width="64.3" height="29.1" fill="#f9e3e3"/>
<rect x="1225.6" y="2082.0" width="62.0" height="29.1" fill="#c1ddc8"/>
<rect x="1348.8" y="2082.0" width="62.3" height="29.1" fill="#eff6ef"/>
<rect x="1410.7" y="2082.0" width="64.3" height="29.1" fill="#edc8cb"/>
<rect x="1225.6" y="2110.7" width="62.0" height="29.1" fill="#efd0d2"/>
<rect x="1287.2" y="2110.7" width="62.0" height="29.1" fill="#c0dcc7"/>
<rect x="1348.8" y="2110.7" width="62.3" height="29.1" fill="#bad9c0"/>
<rect x="1410.7" y="2110.7" width="64.3" height="29.1" fill="#6db073"/>
<rect x="1225.6" y="2139.3" width="62.0" height="29.1" fill="#ecc8cb"/>
<rect x="1287.2" y="2139.3" width="62.0" height="29.1" fill="#c6dfcb"/>
<rect x="1348.8" y="2139.3" width="62.3" height="29.1" fill="#cde3d1"/>
<rect x="1410.7" y="2139.3" width="64.3" height="29.1" fill="#8dc296"/>
<rect x="1225.6" y="2168.0" width="62.0" height="29.1" fill="#efd0d2"/>
<rect x="1287.2" y="2168.0" width="62.0" height="29.1" fill="#e4efe5"/>
<rect x="1348.8" y="2168.0" width="62.3" height="29.1" fill="#deecdf"/>
<rect x="1410.7" y="2168.0" width="64.3" height="29.1" fill="#82bb89"/>
<rect x="1225.6" y="2196.7" width="62.0" height="29.1" fill="#deecdf"/>
<rect x="1287.2" y="2196.7" width="62.0" height="29.1" fill="#cfe4d3"/>
<rect x="1348.8" y="2196.7" width="62.3" height="29.1" fill="#b6d6bc"/>
<rect x="1410.7" y="2196.7" width="64.3" height="29.1" fill="#ebf3ec"/>
<rect x="1225.6" y="2225.3" width="62.0" height="29.1" fill="#a5ceab"/>
<rect x="1287.2" y="2225.3" width="62.0" height="29.1" fill="#a5ceab"/>
<rect x="1348.8" y="2225.3" width="62.3" height="29.1" fill="#9dcaa4"/>
<rect x="1410.7" y="2225.3" width="64.3" height="29.1" fill="#c3dec8"/>
<rect x="1225.6" y="2254.0" width="62.0" height="29.1" fill="#a5ceab"/>
<rect x="1287.2" y="2254.0" width="62.0" height="29.1" fill="#b9d8bf"/>
<rect x="1348.8" y="2254.0" width="62.3" height="29.1" fill="#acd1b2"/>
<rect x="1410.7" y="2254.0" width="64.3" height="29.1" fill="#d6e8d9"/>
<rect x="1225.6" y="2282.6" width="62.0" height="34.4" fill="#b9d8bf"/>
<rect x="1287.2" y="2282.6" width="62.0" height="34.4" fill="#deecdf"/>
<rect x="1348.8" y="2282.6" width="62.3" height="34.4" fill="#d6e8d9"/>
<rect x="1410.7" y="2282.6" width="64.3" height="34.4" fill="#e9f3ea"/>
<rect x="1162.3" y="1305.6" width="313.8" height="1012.7" fill="none" stroke="#000" stroke-width="3.2"/>
<line x1="1146.9" y1="1325.4" x2="1162.0" y2="1325.4" stroke="#000" stroke-width="3.0" stroke-linecap="butt"/>
<text transform="translate(1139.90 1330.60) scale(1.03 1)" font-size="19.9" text-anchor="end" fill="#000">PC31:1</text>
<line x1="1146.9" y1="1352.9" x2="1162.0" y2="1352.9" stroke="#000" stroke-width="3.0" stroke-linecap="butt"/>
<text transform="translate(1139.90 1358.80) scale(1.03 1)" font-size="19.9" text-anchor="end" fill="#000">PC32:1</text>
<line x1="1146.9" y1="1380.7" x2="1162.0" y2="1380.7" stroke="#000" stroke-width="3.0" stroke-linecap="butt"/>
<text transform="translate(1139.90 1387.40) scale(1.03 1)" font-size="19.9" text-anchor="end" fill="#000">PC32:2</text>
<line x1="1146.9" y1="1408.3" x2="1162.0" y2="1408.3" stroke="#000" stroke-width="3.0" stroke-linecap="butt"/>
<text transform="translate(1139.90 1415.60) scale(1.03 1)" font-size="19.9" text-anchor="end" fill="#000">PC33:1</text>
<line x1="1146.9" y1="1438.1" x2="1162.0" y2="1438.1" stroke="#000" stroke-width="3.0" stroke-linecap="butt"/>
<text transform="translate(1139.90 1445.80) scale(1.03 1)" font-size="19.9" text-anchor="end" fill="#000">PC33:2</text>
<line x1="1146.9" y1="1466.4" x2="1162.0" y2="1466.4" stroke="#000" stroke-width="3.0" stroke-linecap="butt"/>
<text transform="translate(1139.90 1474.50) scale(1.03 1)" font-size="19.9" text-anchor="end" fill="#000">PC33:3</text>
<line x1="1146.9" y1="1496.3" x2="1162.0" y2="1496.3" stroke="#000" stroke-width="3.0" stroke-linecap="butt"/>
<text transform="translate(1139.90 1503.40) scale(1.03 1)" font-size="19.9" text-anchor="end" fill="#000">PC34:2</text>
<line x1="1146.9" y1="1524.3" x2="1162.0" y2="1524.3" stroke="#000" stroke-width="3.0" stroke-linecap="butt"/>
<text transform="translate(1139.90 1531.30) scale(1.03 1)" font-size="19.9" text-anchor="end" fill="#000">PC34:4</text>
<line x1="1146.9" y1="1553.8" x2="1162.0" y2="1553.8" stroke="#000" stroke-width="3.0" stroke-linecap="butt"/>
<text transform="translate(1139.90 1559.50) scale(1.03 1)" font-size="19.9" text-anchor="end" fill="#000">PC34:5</text>
<line x1="1146.9" y1="1583.9" x2="1162.0" y2="1583.9" stroke="#000" stroke-width="3.0" stroke-linecap="butt"/>
<text transform="translate(1139.90 1587.80) scale(1.03 1)" font-size="19.9" text-anchor="end" fill="#000">PC35:2</text>
<line x1="1146.9" y1="1611.7" x2="1162.0" y2="1611.7" stroke="#000" stroke-width="3.0" stroke-linecap="butt"/>
<text transform="translate(1139.90 1616.40) scale(1.03 1)" font-size="19.9" text-anchor="end" fill="#000">PC35:3</text>
<line x1="1146.9" y1="1640.0" x2="1162.0" y2="1640.0" stroke="#000" stroke-width="3.0" stroke-linecap="butt"/>
<text transform="translate(1139.90 1646.60) scale(1.03 1)" font-size="19.9" text-anchor="end" fill="#000">PC35:4</text>
<line x1="1146.9" y1="1669.8" x2="1162.0" y2="1669.8" stroke="#000" stroke-width="3.0" stroke-linecap="butt"/>
<text transform="translate(1139.90 1677.40) scale(1.03 1)" font-size="19.9" text-anchor="end" fill="#000">PC35:5</text>
<line x1="1146.9" y1="1697.4" x2="1162.0" y2="1697.4" stroke="#000" stroke-width="3.0" stroke-linecap="butt"/>
<text transform="translate(1139.90 1706.00) scale(1.03 1)" font-size="19.9" text-anchor="end" fill="#000">PC35:6</text>
<line x1="1146.9" y1="1725.1" x2="1162.0" y2="1725.1" stroke="#000" stroke-width="3.0" stroke-linecap="butt"/>
<text transform="translate(1139.90 1734.90) scale(1.03 1)" font-size="19.9" text-anchor="end" fill="#000">PC36:1</text>
<line x1="1146.9" y1="1754.9" x2="1162.0" y2="1754.9" stroke="#000" stroke-width="3.0" stroke-linecap="butt"/>
<text transform="translate(1139.30 1763.10) scale(1.1 1)" font-size="23.2" font-weight="bold" text-anchor="end" fill="#000">PC36:2</text>
<line x1="1146.9" y1="1782.8" x2="1162.0" y2="1782.8" stroke="#000" stroke-width="3.0" stroke-linecap="butt"/>
<text transform="translate(1139.90 1792.90) scale(1.03 1)" font-size="19.9" text-anchor="end" fill="#000">PC36:3</text>
<line x1="1146.9" y1="1812.7" x2="1162.0" y2="1812.7" stroke="#000" stroke-width="3.0" stroke-linecap="butt"/>
<text transform="translate(1139.90 1821.60) scale(1.03 1)" font-size="19.9" text-anchor="end" fill="#000">PC36:5</text>
<line x1="1146.9" y1="1841.1" x2="1162.0" y2="1841.1" stroke="#000" stroke-width="3.0" stroke-linecap="butt"/>
<text transform="translate(1139.90 1850.50) scale(1.03 1)" font-size="19.9" text-anchor="end" fill="#000">PC36:6</text>
<line x1="1146.9" y1="1870.6" x2="1162.0" y2="1870.6" stroke="#000" stroke-width="3.0" stroke-linecap="butt"/>
<text transform="translate(1139.90 1878.50) scale(1.03 1)" font-size="19.9" text-anchor="end" fill="#000">PC37:2</text>
<line x1="1146.9" y1="1898.8" x2="1162.0" y2="1898.8" stroke="#000" stroke-width="3.0" stroke-linecap="butt"/>
<text transform="translate(1139.90 1906.70) scale(1.03 1)" font-size="19.9" text-anchor="end" fill="#000">PC37:5</text>
<line x1="1146.9" y1="1926.2" x2="1162.0" y2="1926.2" stroke="#000" stroke-width="3.0" stroke-linecap="butt"/>
<text transform="translate(1139.90 1934.90) scale(1.03 1)" font-size="19.9" text-anchor="end" fill="#000">PC37:6</text>
<line x1="1146.9" y1="1956.0" x2="1162.0" y2="1956.0" stroke="#000" stroke-width="3.0" stroke-linecap="butt"/>
<text transform="translate(1139.90 1963.50) scale(1.03 1)" font-size="19.9" text-anchor="end" fill="#000">PC38:2</text>
<line x1="1146.9" y1="1984.2" x2="1162.0" y2="1984.2" stroke="#000" stroke-width="3.0" stroke-linecap="butt"/>
<text transform="translate(1139.90 1994.10) scale(1.03 1)" font-size="19.9" text-anchor="end" fill="#000">PC38:4</text>
<line x1="1146.9" y1="2011.9" x2="1162.0" y2="2011.9" stroke="#000" stroke-width="3.0" stroke-linecap="butt"/>
<text transform="translate(1139.90 2020.20) scale(1.03 1)" font-size="19.9" text-anchor="end" fill="#000">PC38:5</text>
<line x1="1146.9" y1="2041.6" x2="1162.0" y2="2041.6" stroke="#000" stroke-width="3.0" stroke-linecap="butt"/>
<text transform="translate(1139.30 2048.30) scale(1.1 1)" font-size="23.2" font-weight="bold" text-anchor="end" fill="#000">PC38:6</text>
<line x1="1146.9" y1="2071.2" x2="1162.0" y2="2071.2" stroke="#000" stroke-width="3.0" stroke-linecap="butt"/>
<text transform="translate(1139.90 2077.00) scale(1.03 1)" font-size="19.9" text-anchor="end" fill="#000">PC38:7</text>
<line x1="1146.9" y1="2100.7" x2="1162.0" y2="2100.7" stroke="#000" stroke-width="3.0" stroke-linecap="butt"/>
<text transform="translate(1139.90 2105.10) scale(1.03 1)" font-size="19.9" text-anchor="end" fill="#000">PC38:8</text>
<line x1="1146.9" y1="2129.1" x2="1162.0" y2="2129.1" stroke="#000" stroke-width="3.0" stroke-linecap="butt"/>
<text transform="translate(1139.90 2135.70) scale(1.03 1)" font-size="19.9" text-anchor="end" fill="#000">PC39:4</text>
<line x1="1146.9" y1="2158.7" x2="1162.0" y2="2158.7" stroke="#000" stroke-width="3.0" stroke-linecap="butt"/>
<text transform="translate(1139.90 2164.10) scale(1.03 1)" font-size="19.9" text-anchor="end" fill="#000">PC39:5</text>
<line x1="1146.9" y1="2186.9" x2="1162.0" y2="2186.9" stroke="#000" stroke-width="3.0" stroke-linecap="butt"/>
<text transform="translate(1139.90 2192.70) scale(1.03 1)" font-size="19.9" text-anchor="end" fill="#000">PC39:6</text>
<line x1="1146.9" y1="2214.5" x2="1162.0" y2="2214.5" stroke="#000" stroke-width="3.0" stroke-linecap="butt"/>
<text transform="translate(1139.90 2220.90) scale(1.03 1)" font-size="19.9" text-anchor="end" fill="#000">PC40:7</text>
<line x1="1146.9" y1="2242.6" x2="1162.0" y2="2242.6" stroke="#000" stroke-width="3.0" stroke-linecap="butt"/>
<text transform="translate(1139.90 2249.20) scale(1.03 1)" font-size="19.9" text-anchor="end" fill="#000">PC40:8</text>
<line x1="1146.9" y1="2272.0" x2="1162.0" y2="2272.0" stroke="#000" stroke-width="3.0" stroke-linecap="butt"/>
<text transform="translate(1139.90 2277.40) scale(1.03 1)" font-size="19.9" text-anchor="end" fill="#000">PC40:9</text>
<line x1="1146.9" y1="2302.7" x2="1162.0" y2="2302.7" stroke="#000" stroke-width="3.0" stroke-linecap="butt"/>
<text transform="translate(1139.30 2309.00) scale(1.1 1)" font-size="23.2" font-weight="bold" text-anchor="end" fill="#000">PC40:10</text>
<text x="1194.40" y="1299.60" font-size="25.3" font-weight="bold" text-anchor="start" fill="#000" transform="rotate(-30 1194.40 1299.60)">OP</text>
<text x="1253.50" y="1296.40" font-size="25.1" font-weight="bold" text-anchor="start" fill="#000" transform="rotate(-30 1253.50 1296.40)">HG-OP</text>
<text x="1317.50" y="1296.40" font-size="25.1" font-weight="bold" text-anchor="start" fill="#000" transform="rotate(-30 1317.50 1296.40)">HG Mix 3:1 (OP:DA)</text>
<text x="1377.60" y="1296.40" font-size="25.1" font-weight="bold" text-anchor="start" fill="#000" transform="rotate(-30 1377.60 1296.40)">HG Mix 9:1 (OP:DA)</text>
<text x="1444.30" y="1296.40" font-size="27.0" font-weight="bold" text-anchor="start" fill="#000" transform="rotate(-30 1444.30 1296.40)">DA</text>
</g>
</svg>
</body></html>
